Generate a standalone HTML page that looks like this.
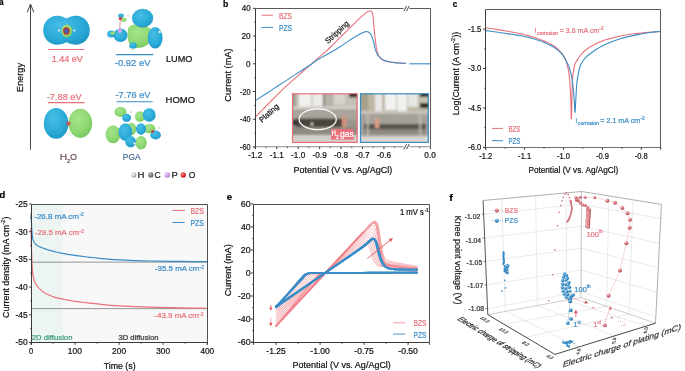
<!DOCTYPE html>
<html><head><meta charset="utf-8"><style>html,body{margin:0;padding:0;background:#fff;overflow:hidden}svg{display:block;will-change:transform}text{stroke-width:0.22px;paint-order:stroke}</style></head>
<body>
<svg width="685" height="371" viewBox="0 0 685 371" font-family='"Liberation Sans", sans-serif'>
<defs><radialGradient id="cyanG" cx="0.4" cy="0.35" r="0.7">
<stop offset="0" stop-color="#48bee6"/><stop offset="0.65" stop-color="#2aaad8"/><stop offset="1" stop-color="#1f96c4"/>
</radialGradient>
<radialGradient id="greenG" cx="0.4" cy="0.35" r="0.7">
<stop offset="0" stop-color="#a6e48c"/><stop offset="0.65" stop-color="#8dd771"/><stop offset="1" stop-color="#76c45c"/>
</radialGradient>
<radialGradient id="sH" cx="0.35" cy="0.35" r="0.7"><stop offset="0" stop-color="#fff"/><stop offset="1" stop-color="#999"/></radialGradient>
<radialGradient id="sC" cx="0.35" cy="0.35" r="0.7"><stop offset="0" stop-color="#bbb"/><stop offset="1" stop-color="#555"/></radialGradient>
<radialGradient id="sP" cx="0.35" cy="0.35" r="0.7"><stop offset="0" stop-color="#f0d0ff"/><stop offset="1" stop-color="#b070d0"/></radialGradient>
<radialGradient id="sO" cx="0.35" cy="0.35" r="0.7"><stop offset="0" stop-color="#ff8080"/><stop offset="1" stop-color="#c00000"/></radialGradient>
<radialGradient id="sR" cx="0.35" cy="0.3" r="0.75"><stop offset="0" stop-color="#f3c9cc"/><stop offset="0.5" stop-color="#d8737c"/><stop offset="1" stop-color="#a84450"/></radialGradient>
<radialGradient id="sB" cx="0.35" cy="0.3" r="0.75"><stop offset="0" stop-color="#b8e0f6"/><stop offset="0.5" stop-color="#3a92cc"/><stop offset="1" stop-color="#1a5f90"/></radialGradient>
</defs>
<rect width="685" height="371" fill="#fff"/>
<line x1="30.50" y1="4.50" x2="30.50" y2="149.70" stroke="#333" stroke-width="0.9" />
<polyline points="27.2,12.4 30.5,4 33.8,12.4" fill="none" stroke="#333" stroke-width="0.9"/>
<text x="-0.74" y="0" font-size="9.9" fill="#111" textLength="29.33" lengthAdjust="spacingAndGlyphs" transform="translate(22.83,91.50) rotate(-90)" stroke="#111" stroke-width="0.08">Energy</text>
<text x="-0.25" y="0" font-size="9.6" fill="#000" textLength="4.68" lengthAdjust="spacingAndGlyphs" font-weight="bold" transform="translate(-0.65,5.48) rotate(0)"  stroke="#000" stroke-width="0.0">a</text>
<path d="M57.2,15.8 C63,15.8 64.5,18.3 66.5,18.3 C68.5,18.3 70,15.8 75.8,15.8 C84,15.8 89.8,22.3 89.8,30.3 C89.8,38.3 84,44.8 75.8,44.8 C70,44.8 68.5,42.6 66.5,42.6 C64.5,42.6 63,44.8 57.2,44.8 C49,44.8 43.2,38.3 43.2,30.3 C43.2,22.3 49,15.8 57.2,15.8 Z" fill="url(#cyanG)"/>
<ellipse cx="66.8" cy="31" rx="5.6" ry="6.4" fill="url(#greenG)"/>
<ellipse cx="66.4" cy="31" rx="2.7" ry="3.1" fill="#3a68a8" stroke="#d8202a" stroke-width="1.1"/>
<circle cx="59" cy="30.5" r="1.1" fill="#f4f4f4"/><circle cx="74.3" cy="30.5" r="1.1" fill="#f4f4f4"/>
<line x1="48.10" y1="49.50" x2="84.30" y2="49.50" stroke="#e8707a" stroke-width="1.1" />
<text x="-0.68" y="0" font-size="9.6" fill="#e8707a" textLength="31.14" lengthAdjust="spacingAndGlyphs" transform="translate(52.40,62.22) rotate(0)"  stroke="#e8707a" stroke-width="0.08">1.44 eV</text>
<path d="M127.8,30 C128,25 135,23.5 141,25 C147,26.5 152,28 153.3,33 C154.5,38 151,42 147,45 C143,48 137,49 133,47 C129,45 127.6,40 127.5,35 Z" fill="url(#greenG)"/>
<ellipse cx="142.6" cy="18.2" rx="10.6" ry="9.4" fill="url(#cyanG)"/>
<ellipse cx="155.2" cy="37.8" rx="7.4" ry="10.8" fill="url(#cyanG)"/>
<ellipse cx="120.5" cy="35.3" rx="7" ry="6.8" fill="url(#cyanG)"/>
<ellipse cx="111.2" cy="34" rx="4" ry="3.6" fill="url(#cyanG)"/>
<ellipse cx="133" cy="45.6" rx="3.8" ry="3.2" fill="url(#cyanG)"/>
<ellipse cx="112.8" cy="33.2" rx="2.2" ry="1.8" fill="url(#greenG)"/>
<ellipse cx="121" cy="15.8" rx="2.8" ry="2.2" fill="url(#cyanG)"/>
<ellipse cx="123.8" cy="19.8" rx="2.8" ry="2" fill="url(#greenG)"/>
<circle cx="120.3" cy="18.6" r="1.5" fill="#d82a2a"/>
<line x1="120.3" y1="19.5" x2="119.8" y2="29" stroke="#d04060" stroke-width="0.6"/>
<circle cx="119.8" cy="30.8" r="2.1" fill="#dca4ec"/>
<circle cx="128.5" cy="15.2" r="1.1" fill="#f6f6f6" stroke="#bbb" stroke-width="0.3"/>
<circle cx="108" cy="37.4" r="1.1" fill="#f6f6f6" stroke="#bbb" stroke-width="0.3"/>
<circle cx="132" cy="49.5" r="1.1" fill="#f6f6f6" stroke="#bbb" stroke-width="0.3"/>
<circle cx="159.6" cy="31.9" r="1.1" fill="#f6f6f6" stroke="#bbb" stroke-width="0.3"/>
<line x1="116.10" y1="54.60" x2="153.30" y2="54.60" stroke="#3a8cc6" stroke-width="1.1" />
<text x="-0.43" y="0" font-size="9.6" fill="#3a8cc6" textLength="35.78" lengthAdjust="spacingAndGlyphs" transform="translate(115.20,66.02) rotate(0)"  stroke="#3a8cc6" stroke-width="0.08">-0.92 eV</text>
<text x="-0.73" y="0" font-size="9.6" fill="#111" textLength="26.38" lengthAdjust="spacingAndGlyphs" transform="translate(166.70,62.32) rotate(0)"  stroke="#111" stroke-width="0.08">LUMO</text>
<line x1="48.00" y1="102.60" x2="84.50" y2="102.60" stroke="#e8707a" stroke-width="1.1" />
<text x="-0.41" y="0" font-size="9.6" fill="#e8707a" textLength="34.76" lengthAdjust="spacingAndGlyphs" transform="translate(47.20,100.22) rotate(0)"  stroke="#e8707a" stroke-width="0.08">-7.88 eV</text>
<ellipse cx="56.1" cy="123.4" rx="12.3" ry="15.4" fill="url(#cyanG)"/>
<ellipse cx="80.3" cy="123.3" rx="11.9" ry="14.6" fill="url(#greenG)"/>
<circle cx="68.4" cy="123.5" r="2.2" fill="#d8404a" opacity="0.8"/>
<circle cx="68.4" cy="113" r="1.6" fill="none" stroke="#ddd" stroke-width="0.6"/><circle cx="68.4" cy="134" r="1.6" fill="none" stroke="#ddd" stroke-width="0.6"/>
<line x1="116.70" y1="101.70" x2="152.60" y2="101.70" stroke="#3a8cc6" stroke-width="1.1" />
<text x="-0.42" y="0" font-size="9.6" fill="#3a8cc6" textLength="34.97" lengthAdjust="spacingAndGlyphs" transform="translate(115.90,98.22) rotate(0)"  stroke="#3a8cc6" stroke-width="0.08">-7.76 eV</text>
<text x="-0.76" y="0" font-size="9.6" fill="#111" textLength="29.49" lengthAdjust="spacingAndGlyphs" transform="translate(166.30,102.82) rotate(0)"  stroke="#111" stroke-width="0.08">HOMO</text>
<ellipse cx="120.5" cy="112" rx="6" ry="5" fill="url(#greenG)"/>
<ellipse cx="140" cy="116.5" rx="5" ry="5.2" fill="url(#greenG)"/>
<ellipse cx="113" cy="134.3" rx="7.4" ry="9" fill="url(#greenG)"/>
<ellipse cx="131.3" cy="129" rx="5" ry="6.2" fill="url(#greenG)"/>
<ellipse cx="149.5" cy="128.6" rx="6" ry="4.7" fill="url(#greenG)"/>
<ellipse cx="141" cy="142.7" rx="5.7" ry="6.7" fill="url(#greenG)"/>
<ellipse cx="126.6" cy="117.8" rx="4.5" ry="4" fill="url(#cyanG)"/>
<ellipse cx="149.2" cy="115" rx="6.5" ry="6.8" fill="url(#cyanG)"/>
<ellipse cx="125.3" cy="132" rx="6.8" ry="8.7" fill="url(#cyanG)"/>
<ellipse cx="141" cy="129" rx="5" ry="5.8" fill="url(#cyanG)"/>
<ellipse cx="155.6" cy="135" rx="5.4" ry="4.4" fill="url(#cyanG)"/>
<ellipse cx="130.6" cy="141.7" rx="5.4" ry="5.7" fill="url(#cyanG)"/>
<circle cx="131" cy="112" r="1.1" fill="#f6f6f6" stroke="#bbb" stroke-width="0.3"/>
<circle cx="159" cy="127.8" r="1.1" fill="#f6f6f6" stroke="#bbb" stroke-width="0.3"/>
<circle cx="134.5" cy="143.4" r="1.1" fill="#f6f6f6" stroke="#bbb" stroke-width="0.3"/>
<circle cx="152.5" cy="131.5" r="1.3" fill="#d82a2a"/>
<text x="-0.81" y="0" font-size="9.6" fill="#6e4a58" textLength="7.35" lengthAdjust="spacingAndGlyphs" transform="translate(60.60,160.22) rotate(0)"  stroke="#6e4a58" stroke-width="0.08">H</text>
<text x="67.0" y="163.0" font-size="6" fill="#6e4a58" stroke="#6e4a58" stroke-width="0.22">2</text>
<text x="-0.39" y="0" font-size="9.6" fill="#6e4a58" textLength="6.70" lengthAdjust="spacingAndGlyphs" transform="translate(70.60,160.22) rotate(0)"  stroke="#6e4a58" stroke-width="0.08">O</text>
<text x="-0.67" y="0" font-size="9.6" fill="#4a6a90" textLength="17.69" lengthAdjust="spacingAndGlyphs" transform="translate(123.50,159.82) rotate(0)"  stroke="#4a6a90" stroke-width="0.08">PGA</text>
<circle cx="133.8" cy="174.9" r="2.6" fill="url(#sH)"/>
<text x="-0.77" y="0" font-size="8.4" fill="#222" textLength="6.96" lengthAdjust="spacingAndGlyphs" transform="translate(138.30,177.90) rotate(0)"  stroke="#222" stroke-width="0.22">H</text>
<circle cx="150.8" cy="174.9" r="2.6" fill="url(#sC)"/>
<text x="-0.43" y="0" font-size="8.4" fill="#222" textLength="6.14" lengthAdjust="spacingAndGlyphs" transform="translate(154.90,177.98) rotate(0)"  stroke="#222" stroke-width="0.22">C</text>
<circle cx="167.3" cy="174.9" r="2.6" fill="url(#sP)"/>
<text x="-0.76" y="0" font-size="8.4" fill="#222" textLength="6.36" lengthAdjust="spacingAndGlyphs" transform="translate(172.20,177.90) rotate(0)"  stroke="#222" stroke-width="0.22">P</text>
<circle cx="183.2" cy="174.9" r="2.6" fill="url(#sO)"/>
<text x="-0.38" y="0" font-size="8.4" fill="#222" textLength="6.59" lengthAdjust="spacingAndGlyphs" transform="translate(189.20,177.98) rotate(0)"  stroke="#222" stroke-width="0.22">O</text>
<defs><filter id="blur1" x="-5%" y="-5%" width="110%" height="110%"><feGaussianBlur stdDeviation="0.8"/></filter><filter id="blur05"><feGaussianBlur stdDeviation="0.5"/></filter><clipPath id="clipL"><rect x="292" y="93.5" width="65.5" height="49.3"/></clipPath><clipPath id="clipR"><rect x="360" y="93.5" width="68.8" height="49.3"/></clipPath></defs>
<g clip-path="url(#clipL)"><g filter="url(#blur1)">
<rect x="290" y="92" width="70" height="53" fill="#b4b0a8"/>
<rect x="290" y="92" width="70" height="15" fill="#c6c2ba"/>
<rect x="290" y="92" width="6" height="40" fill="#a29e96"/>
<rect x="299" y="92" width="12" height="15" fill="#f0f0ee"/>
<rect x="312.5" y="92" width="10" height="14" fill="#ebebe9"/>
<rect x="323.5" y="92" width="2" height="16" fill="#7a766e"/>
<rect x="327" y="92" width="6" height="15" fill="#b6b2aa"/>
<rect x="334" y="92" width="11" height="12" fill="#d6d3cd"/>
<rect x="349" y="92" width="10" height="5.5" fill="#1a1a1a"/>
<rect x="346" y="97.5" width="12" height="9" fill="#c4c0b8"/>
<rect x="292" y="106.5" width="66" height="2.5" fill="#d6d2cc"/>
<rect x="290" y="109" width="70" height="9.5" fill="#a9a59d"/>
<rect x="296" y="118.5" width="46" height="8.5" fill="#48443e"/>
<rect x="292" y="119.5" width="5" height="6" fill="#343230"/>
<rect x="342" y="119" width="16" height="8" fill="#9a968e"/>
<rect x="290" y="127" width="70" height="8" fill="#8f8b83"/>
<rect x="290" y="135" width="70" height="10" fill="#d3cfca"/>
<circle cx="312" cy="124" r="1.2" fill="#eeeeee"/>
<rect x="342" y="117" width="4.5" height="10" fill="#d49478"/>
</g>
<ellipse cx="317.7" cy="119.3" rx="18.6" ry="10.4" fill="none" stroke="#fafafa" stroke-width="1.3"/>
</g>
<rect x="331" y="129" width="22.7" height="10.6" fill="#e8707a"/>
<text x="-0.50" y="0" font-size="8.6" fill="#ffffff" textLength="4.51" lengthAdjust="spacingAndGlyphs" transform="translate(332.00,136.13) rotate(0)"  stroke="#ffffff" stroke-width="0.22">H</text>
<text x="336.0" y="139.2" font-size="5.2" fill="#ffffff" stroke="#ffffff" stroke-width="0.22">2</text>
<text x="-0.34" y="0" font-size="8.6" fill="#ffffff" textLength="13.66" lengthAdjust="spacingAndGlyphs" transform="translate(340.30,136.64) rotate(0)"  stroke="#ffffff" stroke-width="0.22">gas</text>
<rect x="292.5" y="93.8" width="64.6" height="48.6" fill="none" stroke="#e8707a" stroke-width="1.2"/>
<g clip-path="url(#clipR)"><g filter="url(#blur1)">
<rect x="358" y="92" width="73" height="53" fill="#b0aca4"/>
<rect x="358" y="92" width="73" height="19" fill="#bdb6a0"/>
<rect x="358" y="92" width="10" height="19" fill="#a8a08a"/>
<rect x="375" y="92" width="7" height="20" fill="#e8e8e6"/>
<rect x="385" y="92" width="11" height="18" fill="#f2f2f0"/>
<rect x="397" y="92" width="10" height="19" fill="#f0f0ee"/>
<rect x="408" y="92" width="10" height="15" fill="#e6e6e2"/>
<rect x="420" y="92" width="10" height="5" fill="#202020"/>
<rect x="420" y="103" width="10" height="5" fill="#2a2a28"/>
<rect x="420" y="97" width="10" height="6" fill="#c8c4b0"/>
<rect x="358" y="111" width="73" height="27" fill="#a5a199"/>
<rect x="358" y="111" width="73" height="3" fill="#bcb8b0"/>
<rect x="364" y="124" width="62" height="5.5" fill="#55524a"/>
<rect x="364" y="129.5" width="62" height="5" fill="#8e8a82"/>
<rect x="358" y="136" width="73" height="9" fill="#dad7d3"/>
<rect x="360" y="111" width="71" height="2.2" fill="#cdc9c2"/>
<rect x="367" y="111" width="1.6" height="26" fill="#c4c0b9"/>
<rect x="419.5" y="111" width="1.6" height="26" fill="#c4c0b9"/>
<rect x="364" y="135.5" width="60" height="1.5" fill="#bdb9b2"/>
<rect x="374.8" y="118.5" width="4.5" height="9.5" fill="#dc9e86"/>
</g></g>
<rect x="360.5" y="93.8" width="67.8" height="48.6" fill="none" stroke="#3a8cc6" stroke-width="1.2"/>
<polyline points="255.50,116.80 259.33,112.92 264.78,107.36 271.08,100.99 277.41,94.65 283.00,89.20 288.00,84.55 292.93,80.12 297.56,76.06 301.66,72.51 305.00,69.60 307.34,67.55 308.84,66.28 309.85,65.44 310.72,64.73 311.80,63.80 313.01,62.72 314.12,61.72 315.24,60.69 316.49,59.55 318.00,58.20 319.81,56.63 321.84,54.88 324.02,53.01 326.27,51.04 328.50,49.00 330.73,46.87 333.00,44.62 335.32,42.29 337.65,39.94 340.00,37.60 342.42,35.21 344.91,32.76 347.39,30.31 349.78,27.96 352.00,25.80 354.05,23.81 355.98,21.95 357.80,20.21 359.47,18.63 361.00,17.20 362.36,15.94 363.57,14.84 364.65,13.89 365.62,13.08 366.50,12.40 367.28,11.87 367.93,11.50 368.49,11.25 369.00,11.10 369.50,11.00 369.98,10.95 370.41,10.96 370.80,11.06 371.16,11.27 371.50,11.60 371.81,12.01 372.09,12.49 372.34,13.10 372.58,13.92 372.80,15.00 373.00,16.38 373.17,18.00 373.33,19.84 373.50,21.85 373.70,24.00 373.93,26.35 374.17,28.93 374.43,31.64 374.71,34.36 375.00,37.00 375.30,39.64 375.62,42.37 375.96,45.03 376.32,47.48 376.70,49.60 377.11,51.32 377.54,52.74 378.00,53.94 378.49,55.00 379.00,56.00 379.51,56.92 380.01,57.71 380.55,58.40 381.20,59.01 382.00,59.60 382.99,60.15 384.14,60.64 385.38,61.08 386.69,61.47 388.00,61.80 389.28,62.07 390.55,62.27 391.89,62.42 393.35,62.56 395.00,62.70 397.07,62.85 399.53,62.99 402.01,63.12 404.19,63.22 405.70,63.30" fill="none" stroke="#e8707a" stroke-width="1.1" stroke-linejoin="round" stroke-linecap="round" />
<polyline points="255.50,100.60 259.33,98.09 264.78,94.52 271.08,90.40 277.41,86.25 283.00,82.60 288.00,79.35 292.93,76.14 297.56,73.14 301.66,70.47 305.00,68.30 307.34,66.77 308.84,65.78 309.85,65.11 310.72,64.52 311.80,63.80 312.88,63.04 313.73,62.41 314.66,61.73 315.98,60.84 318.00,59.60 320.96,57.88 324.66,55.81 328.73,53.53 332.80,51.20 336.50,49.00 339.91,46.83 343.28,44.59 346.48,42.40 349.43,40.40 352.00,38.70 354.14,37.36 355.91,36.29 357.41,35.42 358.74,34.68 360.00,34.00 361.16,33.40 362.16,32.93 363.03,32.56 363.80,32.25 364.50,32.00 365.10,31.80 365.57,31.66 365.97,31.58 366.36,31.56 366.80,31.60 367.29,31.68 367.80,31.80 368.31,31.99 368.82,32.25 369.30,32.60 369.76,33.03 370.21,33.52 370.65,34.10 371.08,34.78 371.50,35.60 371.91,36.56 372.32,37.65 372.72,38.84 373.11,40.13 373.50,41.50 373.88,43.03 374.26,44.74 374.63,46.48 375.01,48.15 375.40,49.60 375.81,50.82 376.22,51.90 376.64,52.85 377.07,53.71 377.50,54.50 377.88,55.17 378.22,55.70 378.59,56.18 379.06,56.65 379.70,57.20 380.49,57.86 381.37,58.58 382.39,59.31 383.59,60.00 385.00,60.60 386.69,61.11 388.64,61.56 390.74,61.95 392.89,62.30 395.00,62.60 397.24,62.85 399.67,63.04 402.03,63.20 404.06,63.31 405.50,63.40" fill="none" stroke="#3a8cc6" stroke-width="1.1" stroke-linejoin="round" stroke-linecap="round" />
<line x1="409.50" y1="63.80" x2="430.00" y2="63.80" stroke="#3a8cc6" stroke-width="1.1" />
<line x1="255.50" y1="8.50" x2="255.50" y2="149.05" stroke="#3a3a3a" stroke-width="1" />
<line x1="253.10" y1="146.75" x2="430.50" y2="146.75" stroke="#8a8a8a" stroke-width="1.2" />
<line x1="255.50" y1="8.50" x2="430.50" y2="8.50" stroke="#5a5a5a" stroke-width="1" />
<line x1="430.50" y1="8.50" x2="430.50" y2="149.05" stroke="#5a5a5a" stroke-width="1" />
<rect x="403.6" y="5.5" width="5.8" height="6" fill="#fff"/>
<line x1="403.90" y1="11.10" x2="406.60" y2="5.90" stroke="#333" stroke-width="0.9" />
<line x1="406.50" y1="11.10" x2="409.20" y2="5.90" stroke="#333" stroke-width="0.9" />
<rect x="403.6" y="143.75" width="5.8" height="6" fill="#fff"/>
<line x1="403.90" y1="149.35" x2="406.60" y2="144.15" stroke="#333" stroke-width="0.9" />
<line x1="406.50" y1="149.35" x2="409.20" y2="144.15" stroke="#333" stroke-width="0.9" />
<line x1="253.10" y1="8.34" x2="255.50" y2="8.34" stroke="#3a3a3a" stroke-width="1" />
<line x1="253.10" y1="36.07" x2="255.50" y2="36.07" stroke="#3a3a3a" stroke-width="1" />
<line x1="253.10" y1="63.80" x2="255.50" y2="63.80" stroke="#3a3a3a" stroke-width="1" />
<line x1="253.10" y1="91.53" x2="255.50" y2="91.53" stroke="#3a3a3a" stroke-width="1" />
<line x1="253.10" y1="119.26" x2="255.50" y2="119.26" stroke="#3a3a3a" stroke-width="1" />
<line x1="253.10" y1="146.99" x2="255.50" y2="146.99" stroke="#3a3a3a" stroke-width="1" />
<line x1="254.10" y1="22.20" x2="255.50" y2="22.20" stroke="#3a3a3a" stroke-width="0.8" />
<line x1="254.10" y1="49.93" x2="255.50" y2="49.93" stroke="#3a3a3a" stroke-width="0.8" />
<line x1="254.10" y1="77.66" x2="255.50" y2="77.66" stroke="#3a3a3a" stroke-width="0.8" />
<line x1="254.10" y1="105.39" x2="255.50" y2="105.39" stroke="#3a3a3a" stroke-width="0.8" />
<line x1="254.10" y1="133.12" x2="255.50" y2="133.12" stroke="#3a3a3a" stroke-width="0.8" />
<text x="-0.16" y="0" font-size="8.7" fill="#111" textLength="8.86" lengthAdjust="spacingAndGlyphs" transform="translate(241.90,11.43) rotate(0)"  stroke="#111" stroke-width="0.22">40</text>
<text x="-0.41" y="0" font-size="8.7" fill="#111" textLength="9.12" lengthAdjust="spacingAndGlyphs" transform="translate(241.90,39.16) rotate(0)"  stroke="#111" stroke-width="0.22">20</text>
<text x="-0.33" y="0" font-size="8.7" fill="#111" textLength="4.52" lengthAdjust="spacingAndGlyphs" transform="translate(246.40,66.89) rotate(0)"  stroke="#111" stroke-width="0.22">0</text>
<text x="-0.33" y="0" font-size="8.7" fill="#111" textLength="10.48" lengthAdjust="spacingAndGlyphs" transform="translate(240.40,94.62) rotate(0)"  stroke="#111" stroke-width="0.22">-20</text>
<text x="-0.33" y="0" font-size="8.7" fill="#111" textLength="10.48" lengthAdjust="spacingAndGlyphs" transform="translate(240.40,122.35) rotate(0)"  stroke="#111" stroke-width="0.22">-40</text>
<text x="-0.33" y="0" font-size="8.7" fill="#111" textLength="10.48" lengthAdjust="spacingAndGlyphs" transform="translate(240.40,150.08) rotate(0)"  stroke="#111" stroke-width="0.22">-60</text>
<line x1="255.30" y1="146.75" x2="255.30" y2="149.05" stroke="#3a3a3a" stroke-width="1" />
<text x="-0.37" y="0" font-size="8.7" fill="#111" textLength="14.21" lengthAdjust="spacingAndGlyphs" transform="translate(248.60,158.09) rotate(0)"  stroke="#111" stroke-width="0.22">-1.2</text>
<line x1="276.74" y1="146.75" x2="276.74" y2="149.05" stroke="#3a3a3a" stroke-width="1" />
<text x="-0.37" y="0" font-size="8.7" fill="#111" textLength="14.17" lengthAdjust="spacingAndGlyphs" transform="translate(270.04,158.00) rotate(0)"  stroke="#111" stroke-width="0.22">-1.1</text>
<line x1="298.18" y1="146.75" x2="298.18" y2="149.05" stroke="#3a3a3a" stroke-width="1" />
<text x="-0.37" y="0" font-size="8.7" fill="#111" textLength="14.08" lengthAdjust="spacingAndGlyphs" transform="translate(291.48,158.09) rotate(0)"  stroke="#111" stroke-width="0.22">-1.0</text>
<line x1="319.62" y1="146.75" x2="319.62" y2="149.05" stroke="#3a3a3a" stroke-width="1" />
<text x="-0.37" y="0" font-size="8.7" fill="#111" textLength="14.17" lengthAdjust="spacingAndGlyphs" transform="translate(312.92,158.09) rotate(0)"  stroke="#111" stroke-width="0.22">-0.9</text>
<line x1="341.06" y1="146.75" x2="341.06" y2="149.05" stroke="#3a3a3a" stroke-width="1" />
<text x="-0.37" y="0" font-size="8.7" fill="#111" textLength="14.12" lengthAdjust="spacingAndGlyphs" transform="translate(334.36,158.09) rotate(0)"  stroke="#111" stroke-width="0.22">-0.8</text>
<line x1="362.50" y1="146.75" x2="362.50" y2="149.05" stroke="#3a3a3a" stroke-width="1" />
<text x="-0.37" y="0" font-size="8.7" fill="#111" textLength="14.21" lengthAdjust="spacingAndGlyphs" transform="translate(355.80,158.09) rotate(0)"  stroke="#111" stroke-width="0.22">-0.7</text>
<line x1="383.94" y1="146.75" x2="383.94" y2="149.05" stroke="#3a3a3a" stroke-width="1" />
<text x="-0.37" y="0" font-size="8.7" fill="#111" textLength="14.12" lengthAdjust="spacingAndGlyphs" transform="translate(377.24,158.09) rotate(0)"  stroke="#111" stroke-width="0.22">-0.6</text>
<line x1="266.02" y1="146.75" x2="266.02" y2="148.15" stroke="#3a3a3a" stroke-width="0.8" />
<line x1="287.46" y1="146.75" x2="287.46" y2="148.15" stroke="#3a3a3a" stroke-width="0.8" />
<line x1="308.90" y1="146.75" x2="308.90" y2="148.15" stroke="#3a3a3a" stroke-width="0.8" />
<line x1="330.34" y1="146.75" x2="330.34" y2="148.15" stroke="#3a3a3a" stroke-width="0.8" />
<line x1="351.78" y1="146.75" x2="351.78" y2="148.15" stroke="#3a3a3a" stroke-width="0.8" />
<line x1="373.22" y1="146.75" x2="373.22" y2="148.15" stroke="#3a3a3a" stroke-width="0.8" />
<line x1="394.66" y1="146.75" x2="394.66" y2="148.15" stroke="#3a3a3a" stroke-width="0.8" />
<line x1="419.60" y1="146.75" x2="419.60" y2="148.15" stroke="#3a3a3a" stroke-width="0.8" />
<text x="-0.33" y="0" font-size="8.7" fill="#111" textLength="11.42" lengthAdjust="spacingAndGlyphs" transform="translate(424.70,158.19) rotate(0)"  stroke="#111" stroke-width="0.22">0.0</text>
<text x="-0.72" y="0" font-size="9.2" fill="#111" textLength="98.70" lengthAdjust="spacingAndGlyphs" transform="translate(294.30,173.17) rotate(0)"  stroke="#111" stroke-width="0.22">Potential (V vs. Ag/AgCl)</text>
<text x="-0.46" y="0" font-size="9.2" fill="#111" textLength="53.14" lengthAdjust="spacingAndGlyphs" transform="translate(231.17,101.20) rotate(-90)" stroke="#111" stroke-width="0.22">Current (mA)</text>
<line x1="261.50" y1="15.20" x2="273.00" y2="15.20" stroke="#e8707a" stroke-width="1" />
<text x="-0.54" y="0" font-size="8.8" fill="#e8707a" textLength="13.14" lengthAdjust="spacingAndGlyphs" transform="translate(279.50,18.66) rotate(0)"  stroke="#e8707a" stroke-width="0.22">BZS</text>
<line x1="261.50" y1="27.40" x2="273.00" y2="27.40" stroke="#3a8cc6" stroke-width="1" />
<text x="-0.54" y="0" font-size="8.8" fill="#3a8cc6" textLength="13.14" lengthAdjust="spacingAndGlyphs" transform="translate(279.50,30.96) rotate(0)"  stroke="#3a8cc6" stroke-width="0.22">PZS</text>
<text x="-0.62" y="0" font-size="7.8" fill="#111" textLength="23.54" lengthAdjust="spacingAndGlyphs" transform="translate(262.40,122.60) rotate(-42)"  stroke="#111" stroke-width="0.22">Plating</text>
<text x="-0.34" y="0" font-size="7.9" fill="#111" textLength="29.43" lengthAdjust="spacingAndGlyphs" transform="translate(328.20,43.80) rotate(-42.4)"  stroke="#111" stroke-width="0.22">Stripping</text>
<text x="-0.57" y="0" font-size="9.6" fill="#000" textLength="5.32" lengthAdjust="spacingAndGlyphs" font-weight="bold" transform="translate(223.65,6.96) rotate(0)"  stroke="#000" stroke-width="0.0">b</text>
<polyline points="486.00,27.80 488.58,28.19 492.21,28.74 496.46,29.39 500.87,30.09 505.00,30.80 508.92,31.51 512.91,32.25 516.89,33.03 520.76,33.85 524.40,34.70 527.86,35.62 531.22,36.60 534.40,37.60 537.34,38.58 540.00,39.50 542.30,40.33 544.30,41.12 546.07,41.87 547.71,42.62 549.30,43.40 550.82,44.18 552.22,44.94 553.52,45.73 554.77,46.57 556.00,47.50 557.23,48.52 558.42,49.61 559.57,50.76 560.67,51.99 561.70,53.30 562.67,54.63 563.58,55.97 564.43,57.42 565.24,59.06 566.00,61.00 566.72,63.20 567.40,65.60 568.03,68.25 568.60,71.17 569.10,74.40 569.51,78.00 569.85,81.96 570.13,86.17 570.37,90.55 570.60,95.00 570.81,100.35 570.98,106.66 571.13,112.69 571.26,117.22 571.40,119.00 571.53,117.16 571.65,112.52 571.77,106.40 571.88,100.12 572.00,95.00 572.10,91.07 572.18,87.46 572.27,84.10 572.40,80.97 572.60,78.00 572.88,75.19 573.22,72.57 573.61,70.16 574.04,67.96 574.50,66.00 574.97,64.37 575.46,63.07 576.00,61.94 576.63,60.84 577.40,59.60 578.33,58.20 579.39,56.73 580.54,55.25 581.76,53.82 583.00,52.50 584.19,51.32 585.36,50.26 586.62,49.24 588.06,48.20 589.80,47.10 591.92,45.87 594.34,44.55 596.94,43.22 599.60,41.98 602.20,40.90 604.75,40.01 607.33,39.27 609.92,38.61 612.48,38.01 615.00,37.40 617.36,36.80 619.57,36.23 621.81,35.70 624.23,35.19 627.00,34.70 630.26,34.22 633.90,33.76 637.71,33.33 641.48,32.94 645.00,32.60 648.48,32.31 652.05,32.07 655.41,31.88 658.26,31.72 660.30,31.60" fill="none" stroke="#e8707a" stroke-width="1.1" stroke-linejoin="round" stroke-linecap="round" />
<polyline points="486.00,30.60 488.58,30.96 492.21,31.46 496.46,32.05 500.87,32.68 505.00,33.30 508.92,33.89 512.91,34.49 516.89,35.12 520.76,35.78 524.40,36.50 527.86,37.30 531.22,38.16 534.40,39.06 537.34,39.95 540.00,40.80 542.30,41.60 544.30,42.38 546.07,43.15 547.71,43.92 549.30,44.70 550.82,45.48 552.22,46.24 553.52,47.02 554.77,47.83 556.00,48.70 557.23,49.62 558.42,50.58 559.57,51.59 560.67,52.66 561.70,53.80 562.65,54.99 563.54,56.23 564.37,57.54 565.18,58.96 566.00,60.50 566.84,62.18 567.69,63.98 568.52,65.89 569.30,67.90 570.00,70.00 570.61,72.14 571.15,74.33 571.63,76.65 572.08,79.18 572.50,82.00 572.91,85.30 573.28,89.03 573.62,92.91 573.93,96.66 574.20,100.00 574.42,103.25 574.58,106.60 574.72,109.56 574.85,111.69 575.00,112.50 575.15,111.69 575.30,109.56 575.45,106.60 575.61,103.25 575.80,100.00 575.99,96.70 576.17,93.05 576.38,89.25 576.64,85.50 577.00,82.00 577.45,78.69 577.98,75.42 578.57,72.32 579.22,69.47 579.90,67.00 580.62,64.99 581.37,63.36 582.18,62.00 583.05,60.75 584.00,59.50 584.95,58.31 585.88,57.28 586.92,56.29 588.19,55.23 589.80,54.00 591.85,52.50 594.27,50.81 596.89,49.06 599.59,47.38 602.20,45.90 604.75,44.64 607.33,43.50 609.92,42.47 612.48,41.51 615.00,40.60 617.36,39.76 619.57,39.00 621.81,38.30 624.23,37.61 627.00,36.90 630.26,36.15 633.90,35.38 637.71,34.62 641.48,33.92 645.00,33.30 648.48,32.77 652.05,32.29 655.41,31.88 658.26,31.55 660.30,31.30" fill="none" stroke="#3a8cc6" stroke-width="1.1" stroke-linejoin="round" stroke-linecap="round" />
<line x1="485.50" y1="9.50" x2="485.50" y2="149.80" stroke="#3a3a3a" stroke-width="1" />
<line x1="483.10" y1="147.50" x2="660.50" y2="147.50" stroke="#707070" stroke-width="1.1" />
<line x1="485.50" y1="9.50" x2="660.50" y2="9.50" stroke="#5a5a5a" stroke-width="1" />
<line x1="660.50" y1="9.50" x2="660.50" y2="149.80" stroke="#5a5a5a" stroke-width="1" />
<line x1="483.10" y1="29.10" x2="485.50" y2="29.10" stroke="#3a3a3a" stroke-width="1" />
<text x="-0.34" y="0" font-size="8.7" fill="#111" textLength="13.07" lengthAdjust="spacingAndGlyphs" transform="translate(468.60,32.00) rotate(0)"  stroke="#111" stroke-width="0.22">-1.5</text>
<line x1="483.10" y1="68.53" x2="485.50" y2="68.53" stroke="#3a3a3a" stroke-width="1" />
<text x="-0.34" y="0" font-size="8.7" fill="#111" textLength="13.03" lengthAdjust="spacingAndGlyphs" transform="translate(468.60,71.19) rotate(0)"  stroke="#111" stroke-width="0.22">-3.0</text>
<line x1="483.10" y1="107.97" x2="485.50" y2="107.97" stroke="#3a3a3a" stroke-width="1" />
<text x="-0.34" y="0" font-size="8.7" fill="#111" textLength="13.07" lengthAdjust="spacingAndGlyphs" transform="translate(468.60,111.20) rotate(0)"  stroke="#111" stroke-width="0.22">-4.5</text>
<line x1="483.10" y1="147.41" x2="485.50" y2="147.41" stroke="#3a3a3a" stroke-width="1" />
<text x="-0.34" y="0" font-size="8.7" fill="#111" textLength="13.03" lengthAdjust="spacingAndGlyphs" transform="translate(468.60,150.29) rotate(0)"  stroke="#111" stroke-width="0.22">-6.0</text>
<line x1="484.10" y1="48.82" x2="485.50" y2="48.82" stroke="#3a3a3a" stroke-width="0.8" />
<line x1="484.10" y1="88.25" x2="485.50" y2="88.25" stroke="#3a3a3a" stroke-width="0.8" />
<line x1="484.10" y1="127.69" x2="485.50" y2="127.69" stroke="#3a3a3a" stroke-width="0.8" />
<line x1="485.70" y1="147.50" x2="485.70" y2="149.80" stroke="#3a3a3a" stroke-width="1" />
<text x="-0.34" y="0" font-size="8.7" fill="#111" textLength="13.04" lengthAdjust="spacingAndGlyphs" transform="translate(479.55,159.09) rotate(0)"  stroke="#111" stroke-width="0.22">-1.2</text>
<line x1="524.60" y1="147.50" x2="524.60" y2="149.80" stroke="#3a3a3a" stroke-width="1" />
<text x="-0.34" y="0" font-size="8.7" fill="#111" textLength="13.00" lengthAdjust="spacingAndGlyphs" transform="translate(518.45,159.00) rotate(0)"  stroke="#111" stroke-width="0.22">-1.1</text>
<line x1="563.50" y1="147.50" x2="563.50" y2="149.80" stroke="#3a3a3a" stroke-width="1" />
<text x="-0.34" y="0" font-size="8.7" fill="#111" textLength="12.92" lengthAdjust="spacingAndGlyphs" transform="translate(557.35,159.09) rotate(0)"  stroke="#111" stroke-width="0.22">-1.0</text>
<line x1="602.40" y1="147.50" x2="602.40" y2="149.80" stroke="#3a3a3a" stroke-width="1" />
<text x="-0.34" y="0" font-size="8.7" fill="#111" textLength="13.00" lengthAdjust="spacingAndGlyphs" transform="translate(596.25,159.09) rotate(0)"  stroke="#111" stroke-width="0.22">-0.9</text>
<line x1="641.30" y1="147.50" x2="641.30" y2="149.80" stroke="#3a3a3a" stroke-width="1" />
<text x="-0.34" y="0" font-size="8.7" fill="#111" textLength="12.96" lengthAdjust="spacingAndGlyphs" transform="translate(635.15,159.09) rotate(0)"  stroke="#111" stroke-width="0.22">-0.8</text>
<line x1="505.15" y1="147.50" x2="505.15" y2="148.90" stroke="#3a3a3a" stroke-width="0.8" />
<line x1="544.05" y1="147.50" x2="544.05" y2="148.90" stroke="#3a3a3a" stroke-width="0.8" />
<line x1="582.95" y1="147.50" x2="582.95" y2="148.90" stroke="#3a3a3a" stroke-width="0.8" />
<line x1="621.85" y1="147.50" x2="621.85" y2="148.90" stroke="#3a3a3a" stroke-width="0.8" />
<line x1="660.75" y1="147.50" x2="660.75" y2="148.90" stroke="#3a3a3a" stroke-width="0.8" />
<text x="-0.66" y="0" font-size="9.2" fill="#111" textLength="89.79" lengthAdjust="spacingAndGlyphs" transform="translate(529.10,173.37) rotate(0)"  stroke="#111" stroke-width="0.22">Potential (V vs. Ag/AgCl)</text>
<text x="0" y="0" font-size="8.8" fill="#111" textLength="72.22" lengthAdjust="spacingAndGlyphs" transform="translate(459.06,115.30) rotate(-90)" stroke="#111" stroke-width="0.22">Log(Current (A cm</text>
<text x="0" y="0" font-size="5.3" fill="#111" transform="translate(455.46,42.88) rotate(-90)" stroke="#111" stroke-width="0.22">-2</text>
<text x="0" y="0" font-size="8.8" fill="#111" textLength="5.89" lengthAdjust="spacingAndGlyphs" transform="translate(459.06,37.60) rotate(-90)" stroke="#111" stroke-width="0.22">))</text>
<line x1="491.90" y1="128.40" x2="503.00" y2="128.40" stroke="#e8707a" stroke-width="1" />
<text x="-0.49" y="0" font-size="8.8" fill="#e8707a" textLength="11.86" lengthAdjust="spacingAndGlyphs" transform="translate(508.90,131.66) rotate(0)"  stroke="#e8707a" stroke-width="0.22">BZS</text>
<line x1="491.90" y1="140.70" x2="503.00" y2="140.70" stroke="#3a8cc6" stroke-width="1" />
<text x="-0.49" y="0" font-size="8.8" fill="#3a8cc6" textLength="11.86" lengthAdjust="spacingAndGlyphs" transform="translate(508.90,143.96) rotate(0)"  stroke="#3a8cc6" stroke-width="0.22">PZS</text>
<line x1="535.50" y1="27.80" x2="535.50" y2="32.90" stroke="#e8707a" stroke-width="0.75" />
<text x="-0.21" y="0" font-size="5.2" fill="#e8707a" textLength="21.26" lengthAdjust="spacingAndGlyphs" transform="translate(537.15,35.00) rotate(0)"  stroke="#e8707a" stroke-width="0.22">corrosion</text>
<text x="-0.35" y="0" font-size="8.0" fill="#e8707a" textLength="39.28" lengthAdjust="spacingAndGlyphs" transform="translate(560.10,32.50) rotate(0)"  stroke="#e8707a" stroke-width="0.22">= 3.6 mA cm</text>
<text x="599.30" y="30.30" font-size="4.8" fill="#e8707a" stroke="#e8707a" stroke-width="0.22">-2</text>
<line x1="576.40" y1="118.00" x2="576.40" y2="123.10" stroke="#3a8cc6" stroke-width="0.75" />
<text x="-0.20" y="0" font-size="5.2" fill="#3a8cc6" textLength="20.95" lengthAdjust="spacingAndGlyphs" transform="translate(578.05,125.20) rotate(0)"  stroke="#3a8cc6" stroke-width="0.22">corrosion</text>
<text x="-0.36" y="0" font-size="8.0" fill="#3a8cc6" textLength="39.79" lengthAdjust="spacingAndGlyphs" transform="translate(600.70,122.60) rotate(0)"  stroke="#3a8cc6" stroke-width="0.22">= 2.1 mA cm</text>
<text x="640.50" y="120.10" font-size="4.8" fill="#3a8cc6" stroke="#3a8cc6" stroke-width="0.22">-2</text>
<text x="-0.32" y="0" font-size="9.6" fill="#000" textLength="4.47" lengthAdjust="spacingAndGlyphs" font-weight="bold" transform="translate(452.95,7.08) rotate(0)"  stroke="#000" stroke-width="0.0">c</text>
<rect x="31.5" y="204.5" width="31.6" height="138.0" fill="#ecf5f2"/>
<rect x="63.1" y="204.5" width="144.4" height="138.0" fill="#f8f8f8"/>
<line x1="31.50" y1="262.13" x2="207.50" y2="262.13" stroke="#7a7a7a" stroke-width="0.8" />
<line x1="31.50" y1="308.63" x2="207.50" y2="308.63" stroke="#7a7a7a" stroke-width="0.8" />
<polyline points="31.00,213.90 31.04,214.77 31.10,215.97 31.17,217.39 31.24,218.93 31.32,220.50 31.40,222.00 31.48,223.48 31.55,225.03 31.63,226.60 31.71,228.15 31.80,229.63 31.90,231.00 32.00,232.26 32.10,233.44 32.21,234.56 32.32,235.60 32.45,236.58 32.60,237.50 32.76,238.33 32.93,239.09 33.11,239.77 33.31,240.40 33.54,241.01 33.80,241.60 34.09,242.17 34.39,242.71 34.72,243.21 35.10,243.69 35.52,244.15 36.00,244.60 36.57,245.03 37.21,245.45 37.91,245.85 38.63,246.23 39.34,246.58 40.00,246.90 40.59,247.18 41.13,247.41 41.65,247.61 42.21,247.81 42.84,248.04 43.60,248.30 44.42,248.60 45.24,248.90 46.14,249.23 47.19,249.59 48.46,249.97 50.00,250.40 51.77,250.88 53.70,251.40 55.85,251.96 58.26,252.53 61.00,253.12 64.10,253.70 67.70,254.30 71.79,254.93 76.20,255.56 80.76,256.19 85.32,256.77 89.70,257.30 93.82,257.77 97.80,258.20 101.76,258.59 105.86,258.95 110.23,259.28 115.00,259.60 120.01,259.89 125.12,260.16 130.50,260.40 136.32,260.62 142.76,260.82 150.00,261.00 158.92,261.17 169.57,261.31 180.84,261.44 191.62,261.54 200.81,261.63 207.30,261.70" fill="none" stroke="#3a8cc6" stroke-width="1.2" stroke-linejoin="round" stroke-linecap="round" />
<polyline points="31.00,228.60 31.03,230.03 31.07,231.98 31.12,234.30 31.17,236.84 31.23,239.46 31.30,242.00 31.37,244.53 31.44,247.20 31.52,249.93 31.60,252.68 31.70,255.39 31.80,258.00 31.91,260.59 32.02,263.22 32.14,265.81 32.28,268.28 32.43,270.53 32.60,272.50 32.79,274.12 32.99,275.45 33.21,276.57 33.44,277.57 33.71,278.52 34.00,279.50 34.32,280.49 34.65,281.43 35.01,282.31 35.40,283.16 35.83,283.99 36.30,284.80 36.83,285.60 37.42,286.38 38.04,287.13 38.69,287.86 39.35,288.55 40.00,289.20 40.63,289.81 41.24,290.36 41.86,290.89 42.51,291.39 43.21,291.89 44.00,292.40 44.87,292.92 45.81,293.44 46.81,293.95 47.85,294.45 48.92,294.94 50.00,295.40 50.98,295.82 51.85,296.20 52.74,296.57 53.81,296.94 55.18,297.34 57.00,297.80 59.25,298.32 61.83,298.89 64.71,299.49 67.89,300.11 71.35,300.72 75.10,301.30 79.45,301.89 84.46,302.50 89.77,303.11 94.98,303.68 99.72,304.19 103.60,304.60 106.22,304.89 107.79,305.08 108.89,305.21 110.09,305.31 111.93,305.43 115.00,305.60 119.21,305.84 124.09,306.11 129.63,306.39 135.81,306.68 142.60,306.96 150.00,307.20 158.92,307.43 169.57,307.64 180.84,307.85 191.62,308.03 200.81,308.19 207.30,308.30" fill="none" stroke="#e8707a" stroke-width="1.2" stroke-linejoin="round" stroke-linecap="round" />
<line x1="31.50" y1="204.50" x2="31.50" y2="344.80" stroke="#3a3a3a" stroke-width="1" />
<line x1="29.10" y1="342.50" x2="207.50" y2="342.50" stroke="#3a3a3a" stroke-width="1" />
<line x1="31.50" y1="204.50" x2="207.50" y2="204.50" stroke="#505050" stroke-width="1" />
<line x1="207.50" y1="204.50" x2="207.50" y2="344.80" stroke="#505050" stroke-width="1" />
<line x1="29.10" y1="204.00" x2="31.50" y2="204.00" stroke="#3a3a3a" stroke-width="1" />
<text x="-0.38" y="0" font-size="8.7" fill="#111" textLength="12.22" lengthAdjust="spacingAndGlyphs" transform="translate(15.80,207.09) rotate(0)"  stroke="#111" stroke-width="0.22">-25</text>
<line x1="29.10" y1="231.68" x2="31.50" y2="231.68" stroke="#3a3a3a" stroke-width="1" />
<text x="-0.38" y="0" font-size="8.7" fill="#111" textLength="12.18" lengthAdjust="spacingAndGlyphs" transform="translate(15.80,234.77) rotate(0)"  stroke="#111" stroke-width="0.22">-30</text>
<line x1="29.10" y1="259.36" x2="31.50" y2="259.36" stroke="#3a3a3a" stroke-width="1" />
<text x="-0.38" y="0" font-size="8.7" fill="#111" textLength="12.22" lengthAdjust="spacingAndGlyphs" transform="translate(15.80,262.45) rotate(0)"  stroke="#111" stroke-width="0.22">-35</text>
<line x1="29.10" y1="287.04" x2="31.50" y2="287.04" stroke="#3a3a3a" stroke-width="1" />
<text x="-0.38" y="0" font-size="8.7" fill="#111" textLength="12.18" lengthAdjust="spacingAndGlyphs" transform="translate(15.80,290.13) rotate(0)"  stroke="#111" stroke-width="0.22">-40</text>
<line x1="29.10" y1="314.72" x2="31.50" y2="314.72" stroke="#3a3a3a" stroke-width="1" />
<text x="-0.38" y="0" font-size="8.7" fill="#111" textLength="12.22" lengthAdjust="spacingAndGlyphs" transform="translate(15.80,317.72) rotate(0)"  stroke="#111" stroke-width="0.22">-45</text>
<line x1="29.10" y1="342.40" x2="31.50" y2="342.40" stroke="#3a3a3a" stroke-width="1" />
<text x="-0.38" y="0" font-size="8.7" fill="#111" textLength="12.18" lengthAdjust="spacingAndGlyphs" transform="translate(15.80,345.49) rotate(0)"  stroke="#111" stroke-width="0.22">-50</text>
<line x1="30.10" y1="217.84" x2="31.50" y2="217.84" stroke="#3a3a3a" stroke-width="0.8" />
<line x1="30.10" y1="245.52" x2="31.50" y2="245.52" stroke="#3a3a3a" stroke-width="0.8" />
<line x1="30.10" y1="273.20" x2="31.50" y2="273.20" stroke="#3a3a3a" stroke-width="0.8" />
<line x1="30.10" y1="300.88" x2="31.50" y2="300.88" stroke="#3a3a3a" stroke-width="0.8" />
<line x1="30.10" y1="328.56" x2="31.50" y2="328.56" stroke="#3a3a3a" stroke-width="0.8" />
<line x1="31.00" y1="342.50" x2="31.00" y2="344.80" stroke="#3a3a3a" stroke-width="1" />
<text x="-0.30" y="0" font-size="8.7" fill="#111" textLength="4.17" lengthAdjust="spacingAndGlyphs" transform="translate(29.20,353.59) rotate(0)"  stroke="#111" stroke-width="0.22">0</text>
<line x1="75.05" y1="342.50" x2="75.05" y2="344.80" stroke="#3a3a3a" stroke-width="1" />
<text x="-0.64" y="0" font-size="8.7" fill="#111" textLength="14.16" lengthAdjust="spacingAndGlyphs" transform="translate(68.45,353.59) rotate(0)"  stroke="#111" stroke-width="0.22">100</text>
<line x1="119.10" y1="342.50" x2="119.10" y2="344.80" stroke="#3a3a3a" stroke-width="1" />
<text x="-0.42" y="0" font-size="8.7" fill="#111" textLength="13.94" lengthAdjust="spacingAndGlyphs" transform="translate(112.50,353.59) rotate(0)"  stroke="#111" stroke-width="0.22">200</text>
<line x1="163.15" y1="342.50" x2="163.15" y2="344.80" stroke="#3a3a3a" stroke-width="1" />
<text x="-0.33" y="0" font-size="8.7" fill="#111" textLength="13.85" lengthAdjust="spacingAndGlyphs" transform="translate(156.55,353.59) rotate(0)"  stroke="#111" stroke-width="0.22">300</text>
<line x1="207.20" y1="342.50" x2="207.20" y2="344.80" stroke="#3a3a3a" stroke-width="1" />
<text x="-0.16" y="0" font-size="8.7" fill="#111" textLength="13.68" lengthAdjust="spacingAndGlyphs" transform="translate(200.60,353.59) rotate(0)"  stroke="#111" stroke-width="0.22">400</text>
<line x1="53.02" y1="342.50" x2="53.02" y2="343.90" stroke="#3a3a3a" stroke-width="0.8" />
<line x1="97.08" y1="342.50" x2="97.08" y2="343.90" stroke="#3a3a3a" stroke-width="0.8" />
<line x1="141.12" y1="342.50" x2="141.12" y2="343.90" stroke="#3a3a3a" stroke-width="0.8" />
<line x1="185.18" y1="342.50" x2="185.18" y2="343.90" stroke="#3a3a3a" stroke-width="0.8" />
<text x="-0.18" y="0" font-size="9.2" fill="#111" textLength="32.04" lengthAdjust="spacingAndGlyphs" transform="translate(103.80,369.07) rotate(0)"  stroke="#111" stroke-width="0.22">Time (s)</text>
<text x="0" y="0" font-size="8.8" fill="#111" textLength="93.09" lengthAdjust="spacingAndGlyphs" transform="translate(8.97,317.90) rotate(-90)" stroke="#111" stroke-width="0.22">Current density (mA cm</text>
<text x="0" y="0" font-size="5.3" fill="#111" transform="translate(5.37,224.61) rotate(-90)" stroke="#111" stroke-width="0.22">-2</text>
<text x="0" y="0" font-size="8.8" fill="#111" transform="translate(8.97,219.46) rotate(-90)" stroke="#111" stroke-width="0.22">)</text>
<text x="-0.36" y="0" font-size="7.9" fill="#3a8cc6" textLength="44.76" lengthAdjust="spacingAndGlyphs" transform="translate(34.60,218.63) rotate(0)"  stroke="#3a8cc6" stroke-width="0.22">-26.8 mA cm</text>
<text x="79.40" y="216.20" font-size="4.8" fill="#3a8cc6" stroke="#3a8cc6" stroke-width="0.22">-2</text>
<text x="-0.36" y="0" font-size="7.9" fill="#e8707a" textLength="44.35" lengthAdjust="spacingAndGlyphs" transform="translate(35.20,235.43) rotate(0)"  stroke="#e8707a" stroke-width="0.22">-29.5 mA cm</text>
<text x="79.60" y="233.00" font-size="4.8" fill="#e8707a" stroke="#e8707a" stroke-width="0.22">-2</text>
<text x="-0.36" y="0" font-size="7.9" fill="#3a8cc6" textLength="44.56" lengthAdjust="spacingAndGlyphs" transform="translate(155.20,271.13) rotate(0)"  stroke="#3a8cc6" stroke-width="0.22">-35.5 mA cm</text>
<text x="199.60" y="268.70" font-size="4.8" fill="#3a8cc6" stroke="#3a8cc6" stroke-width="0.22">-2</text>
<text x="-0.36" y="0" font-size="7.9" fill="#e8707a" textLength="44.56" lengthAdjust="spacingAndGlyphs" transform="translate(154.70,318.43) rotate(0)"  stroke="#e8707a" stroke-width="0.22">-43.9 mA cm</text>
<text x="199.10" y="316.00" font-size="4.8" fill="#e8707a" stroke="#e8707a" stroke-width="0.22">-2</text>
<text x="-0.39" y="0" font-size="7.6" fill="#3a9a7a" textLength="40.61" lengthAdjust="spacingAndGlyphs" transform="translate(32.20,339.81) rotate(0)"  stroke="#3a9a7a" stroke-width="0.22">2D diffusion</text>
<text x="-0.30" y="0" font-size="7.6" fill="#333" textLength="40.02" lengthAdjust="spacingAndGlyphs" transform="translate(118.70,339.81) rotate(0)"  stroke="#333" stroke-width="0.22">3D diffusion</text>
<line x1="172.40" y1="210.40" x2="184.80" y2="210.40" stroke="#e8707a" stroke-width="1" />
<text x="-0.56" y="0" font-size="8.8" fill="#e8707a" textLength="13.57" lengthAdjust="spacingAndGlyphs" transform="translate(191.00,213.56) rotate(0)"  stroke="#e8707a" stroke-width="0.22">BZS</text>
<line x1="172.40" y1="222.50" x2="184.80" y2="222.50" stroke="#3a8cc6" stroke-width="1" />
<text x="-0.56" y="0" font-size="8.8" fill="#3a8cc6" textLength="13.57" lengthAdjust="spacingAndGlyphs" transform="translate(191.00,225.66) rotate(0)"  stroke="#3a8cc6" stroke-width="0.22">PZS</text>
<text x="-0.40" y="0" font-size="9.6" fill="#000" textLength="6.05" lengthAdjust="spacingAndGlyphs" font-weight="bold" transform="translate(-0.35,198.16) rotate(0)"  stroke="#000" stroke-width="0.0">d</text>
<polyline points="276.10,307.83 276.69,307.40 277.27,306.97 277.86,306.54 278.45,306.11 279.03,305.68 279.62,305.25 280.21,304.82 280.79,304.39 281.38,303.96 281.97,303.53 282.55,303.10 283.14,302.67 283.73,302.24 284.31,301.81 284.90,301.38 285.49,300.95 286.07,300.52 286.66,300.09 287.25,299.66 287.83,299.23 288.42,298.80 289.01,298.37 289.59,297.94 290.18,297.51 290.77,297.08 291.35,296.65 291.94,296.22 292.53,295.79 293.11,295.36 293.70,294.93 294.29,294.50 294.87,294.07 295.46,293.64 296.05,293.21 296.63,292.78 297.22,292.35 297.81,291.92 298.39,291.49 298.98,291.06 299.57,290.63 300.15,290.20 300.74,289.77 301.33,289.34 301.91,288.91 302.50,288.48 303.09,288.05 303.67,287.62 304.26,287.19 304.85,286.76 305.43,286.33 306.02,285.90 306.61,285.47 307.19,285.04 307.78,284.61 308.37,284.18 308.95,283.75 309.54,283.32 310.13,282.89 310.71,282.46 311.30,282.03 311.89,281.60 312.47,281.17 313.06,280.74 313.65,280.31 314.23,279.88 314.82,279.45 315.41,279.02 315.99,278.59 316.58,278.16 317.17,277.73 317.75,277.30 318.34,276.87 318.93,276.44 319.51,276.01 320.10,275.58 320.69,275.15 321.27,274.72 321.86,274.29 322.45,273.86 323.03,273.43 323.62,273.00 324.21,272.57 324.79,272.14 325.38,271.71 325.97,271.28 326.55,270.85 327.14,270.42 327.73,269.99 328.31,269.56 328.90,269.13 329.49,268.70 330.07,268.27 330.66,267.84 331.25,267.41 331.83,266.98 332.42,266.55 333.01,266.12 333.59,265.69 334.18,265.26 334.77,264.83 335.35,264.40 335.94,263.97 336.53,263.54 337.11,263.11 337.70,262.68 338.29,262.25 338.87,261.82 339.46,261.39 340.05,260.96 340.63,260.53 341.22,260.10 341.81,259.67 342.39,259.24 342.98,258.81 343.57,258.38 344.15,257.95 344.74,257.52 345.33,257.09 345.91,256.66 346.50,256.23 347.09,255.80 347.67,255.37 348.26,254.94 348.85,254.51 349.43,254.08 350.02,253.65 350.61,253.22 351.19,252.79 351.78,252.36 352.37,251.93 352.95,251.50 353.54,251.07 354.13,250.64 354.71,250.21 355.30,249.78 355.89,249.35 356.47,248.92 357.06,248.49 357.65,248.07 358.23,247.64 358.82,247.21 359.41,246.78 359.99,246.36 360.58,245.94 361.17,245.52 361.75,245.11 362.34,244.71 362.93,244.33 363.51,243.96 364.10,243.63 364.69,243.34 365.27,243.12 365.86,242.98 366.45,242.98 367.03,243.16 367.62,243.57 368.21,244.29 368.79,245.36 369.38,246.82 369.97,248.65 370.55,250.78 371.14,253.07 371.73,255.35 372.31,257.48 372.90,259.34 373.49,260.90 374.07,262.16 374.66,263.14 375.25,263.89 375.83,264.47 376.42,264.91 377.01,265.24 377.59,265.51 378.18,265.72 378.77,265.89 379.35,266.03 379.94,266.15 380.53,266.26 381.11,266.36 381.70,266.45 382.29,266.54 382.87,266.62 383.46,266.70 384.05,266.77 384.63,266.85 385.22,266.92 385.81,266.99 386.39,267.06 386.98,267.13 387.57,267.20 388.15,267.26 388.74,267.33 389.33,267.39 389.91,267.46 390.50,267.52 391.09,267.58 391.67,267.65 392.26,267.71 392.85,267.77 393.43,267.83 394.02,267.89 394.61,267.94 395.19,268.00 395.78,268.06 396.37,268.12 396.95,268.17 397.54,268.23 398.13,268.28 398.71,268.34 399.30,268.39 399.89,268.44 400.47,268.49 401.06,268.54 401.65,268.60 402.23,268.65 402.82,268.70 403.41,268.75 403.99,268.79 404.58,268.84 405.17,268.89 405.75,268.94 406.34,268.98 406.93,269.03 407.51,269.07 408.10,269.12 408.69,269.16 409.27,269.21 409.86,269.25 410.45,269.29 411.03,269.34 411.62,269.38 412.21,269.42 412.79,269.46 413.38,269.50 413.97,269.54 414.55,269.58 415.14,269.62 415.73,269.66 416.31,269.70 416.90,269.73" fill="none" stroke="#f2959c" stroke-width="0.65" stroke-linejoin="round" stroke-linecap="round" opacity="0.95"/>
<polyline points="416.90,272.31 413.45,272.36 408.66,272.43 402.96,272.51 396.77,272.59 390.50,272.65 383.88,272.71 376.63,272.76 369.17,272.81 361.92,272.85 355.30,272.88 349.29,272.91 343.62,272.93 338.31,272.94 333.39,272.95 328.90,272.97 324.81,272.97 321.09,272.96 317.79,272.95 314.96,272.96 312.62,273.00 310.97,273.06 309.96,273.13 309.35,273.22 308.86,273.36 308.22,273.58 307.48,273.83 306.79,274.12 306.13,274.47 305.45,274.93 304.70,275.53 304.20,275.97 303.96,276.22 303.53,276.75 302.46,278.01 300.30,280.49 296.34,284.96 290.89,291.12 284.99,297.78 279.71,303.75 276.10,307.83" fill="none" stroke="#f2959c" stroke-width="0.65" stroke-linejoin="round" stroke-linecap="round" opacity="0.95"/>
<polyline points="276.10,310.33 276.69,309.88 277.27,309.42 277.86,308.96 278.45,308.50 279.03,308.04 279.62,307.58 280.21,307.12 280.79,306.67 281.38,306.21 281.97,305.75 282.55,305.29 283.14,304.83 283.73,304.37 284.31,303.92 284.90,303.46 285.49,303.00 286.07,302.54 286.66,302.08 287.25,301.62 287.83,301.16 288.42,300.71 289.01,300.25 289.59,299.79 290.18,299.33 290.77,298.87 291.35,298.41 291.94,297.95 292.53,297.50 293.11,297.04 293.70,296.58 294.29,296.12 294.87,295.66 295.46,295.20 296.05,294.75 296.63,294.29 297.22,293.83 297.81,293.37 298.39,292.91 298.98,292.45 299.57,291.99 300.15,291.54 300.74,291.08 301.33,290.62 301.91,290.16 302.50,289.70 303.09,289.24 303.67,288.79 304.26,288.33 304.85,287.87 305.43,287.41 306.02,286.95 306.61,286.49 307.19,286.03 307.78,285.58 308.37,285.12 308.95,284.66 309.54,284.20 310.13,283.74 310.71,283.28 311.30,282.82 311.89,282.37 312.47,281.91 313.06,281.45 313.65,280.99 314.23,280.53 314.82,280.07 315.41,279.62 315.99,279.16 316.58,278.70 317.17,278.24 317.75,277.78 318.34,277.32 318.93,276.86 319.51,276.41 320.10,275.95 320.69,275.49 321.27,275.03 321.86,274.57 322.45,274.11 323.03,273.65 323.62,273.20 324.21,272.74 324.79,272.28 325.38,271.82 325.97,271.36 326.55,270.90 327.14,270.45 327.73,269.99 328.31,269.53 328.90,269.07 329.49,268.61 330.07,268.15 330.66,267.69 331.25,267.24 331.83,266.78 332.42,266.32 333.01,265.86 333.59,265.40 334.18,264.94 334.77,264.49 335.35,264.03 335.94,263.57 336.53,263.11 337.11,262.65 337.70,262.19 338.29,261.73 338.87,261.28 339.46,260.82 340.05,260.36 340.63,259.90 341.22,259.44 341.81,258.98 342.39,258.52 342.98,258.07 343.57,257.61 344.15,257.15 344.74,256.69 345.33,256.23 345.91,255.77 346.50,255.32 347.09,254.86 347.67,254.40 348.26,253.94 348.85,253.48 349.43,253.02 350.02,252.56 350.61,252.11 351.19,251.65 351.78,251.19 352.37,250.73 352.95,250.27 353.54,249.81 354.13,249.36 354.71,248.90 355.30,248.44 355.89,247.98 356.47,247.52 357.06,247.06 357.65,246.61 358.23,246.15 358.82,245.69 359.41,245.23 359.99,244.78 360.58,244.33 361.17,243.87 361.75,243.43 362.34,242.98 362.93,242.55 363.51,242.12 364.10,241.71 364.69,241.32 365.27,240.97 365.86,240.67 366.45,240.44 367.03,240.31 367.62,240.33 368.21,240.54 368.79,241.01 369.38,241.81 369.97,243.01 370.55,244.63 371.14,246.66 371.73,249.01 372.31,251.54 372.90,254.07 373.49,256.42 374.07,258.48 374.66,260.20 375.25,261.58 375.83,262.66 376.42,263.48 377.01,264.11 377.59,264.59 378.18,264.96 378.77,265.25 379.35,265.47 379.94,265.65 380.53,265.81 381.11,265.94 381.70,266.05 382.29,266.15 382.87,266.25 383.46,266.34 384.05,266.42 384.63,266.50 385.22,266.58 385.81,266.66 386.39,266.73 386.98,266.80 387.57,266.88 388.15,266.95 388.74,267.02 389.33,267.09 389.91,267.15 390.50,267.22 391.09,267.29 391.67,267.35 392.26,267.42 392.85,267.48 393.43,267.54 394.02,267.61 394.61,267.67 395.19,267.73 395.78,267.79 396.37,267.85 396.95,267.91 397.54,267.97 398.13,268.02 398.71,268.08 399.30,268.14 399.89,268.19 400.47,268.25 401.06,268.30 401.65,268.35 402.23,268.41 402.82,268.46 403.41,268.51 403.99,268.56 404.58,268.61 405.17,268.66 405.75,268.71 406.34,268.76 406.93,268.81 407.51,268.86 408.10,268.91 408.69,268.95 409.27,269.00 409.86,269.05 410.45,269.09 411.03,269.14 411.62,269.18 412.21,269.22 412.79,269.27 413.38,269.31 413.97,269.35 414.55,269.39 415.14,269.43 415.73,269.47 416.31,269.51 416.90,269.55" fill="none" stroke="#f2959c" stroke-width="0.65" stroke-linejoin="round" stroke-linecap="round" opacity="0.95"/>
<polyline points="416.90,272.31 413.45,272.36 408.66,272.43 402.96,272.51 396.77,272.59 390.50,272.65 383.88,272.71 376.63,272.76 369.17,272.81 361.92,272.85 355.30,272.88 349.26,272.91 343.53,272.93 338.17,272.94 333.27,272.95 328.90,272.97 325.09,272.97 321.79,272.96 318.96,272.95 316.54,272.96 314.49,273.00 312.96,273.06 311.97,273.13 311.31,273.22 310.75,273.36 310.09,273.58 309.34,273.83 308.66,274.12 308.00,274.47 307.32,274.93 306.57,275.53 306.09,275.93 305.91,276.10 305.53,276.57 304.45,277.85 302.17,280.49 297.93,285.34 292.05,292.07 285.69,299.35 279.99,305.88 276.10,310.33" fill="none" stroke="#f2959c" stroke-width="0.65" stroke-linejoin="round" stroke-linecap="round" opacity="0.95"/>
<polyline points="276.10,312.86 276.69,312.38 277.27,311.89 277.86,311.40 278.45,310.92 279.03,310.43 279.62,309.94 280.21,309.46 280.79,308.97 281.38,308.48 281.97,307.99 282.55,307.51 283.14,307.02 283.73,306.53 284.31,306.05 284.90,305.56 285.49,305.07 286.07,304.59 286.66,304.10 287.25,303.61 287.83,303.12 288.42,302.64 289.01,302.15 289.59,301.66 290.18,301.18 290.77,300.69 291.35,300.20 291.94,299.72 292.53,299.23 293.11,298.74 293.70,298.25 294.29,297.77 294.87,297.28 295.46,296.79 296.05,296.31 296.63,295.82 297.22,295.33 297.81,294.85 298.39,294.36 298.98,293.87 299.57,293.38 300.15,292.90 300.74,292.41 301.33,291.92 301.91,291.44 302.50,290.95 303.09,290.46 303.67,289.98 304.26,289.49 304.85,289.00 305.43,288.51 306.02,288.03 306.61,287.54 307.19,287.05 307.78,286.57 308.37,286.08 308.95,285.59 309.54,285.11 310.13,284.62 310.71,284.13 311.30,283.64 311.89,283.16 312.47,282.67 313.06,282.18 313.65,281.70 314.23,281.21 314.82,280.72 315.41,280.24 315.99,279.75 316.58,279.26 317.17,278.77 317.75,278.29 318.34,277.80 318.93,277.31 319.51,276.83 320.10,276.34 320.69,275.85 321.27,275.37 321.86,274.88 322.45,274.39 323.03,273.90 323.62,273.42 324.21,272.93 324.79,272.44 325.38,271.96 325.97,271.47 326.55,270.98 327.14,270.50 327.73,270.01 328.31,269.52 328.90,269.03 329.49,268.55 330.07,268.06 330.66,267.57 331.25,267.09 331.83,266.60 332.42,266.11 333.01,265.63 333.59,265.14 334.18,264.65 334.77,264.16 335.35,263.68 335.94,263.19 336.53,262.70 337.11,262.22 337.70,261.73 338.29,261.24 338.87,260.76 339.46,260.27 340.05,259.78 340.63,259.29 341.22,258.81 341.81,258.32 342.39,257.83 342.98,257.35 343.57,256.86 344.15,256.37 344.74,255.89 345.33,255.40 345.91,254.91 346.50,254.42 347.09,253.94 347.67,253.45 348.26,252.96 348.85,252.48 349.43,251.99 350.02,251.50 350.61,251.02 351.19,250.53 351.78,250.04 352.37,249.55 352.95,249.07 353.54,248.58 354.13,248.09 354.71,247.61 355.30,247.12 355.89,246.63 356.47,246.15 357.06,245.66 357.65,245.17 358.23,244.69 358.82,244.20 359.41,243.71 359.99,243.23 360.58,242.74 361.17,242.26 361.75,241.78 362.34,241.30 362.93,240.82 363.51,240.35 364.10,239.89 364.69,239.44 365.27,239.01 365.86,238.60 366.45,238.23 367.03,237.91 367.62,237.68 368.21,237.55 368.79,237.58 369.38,237.83 369.97,238.36 370.55,239.26 371.14,240.58 371.73,242.37 372.31,244.60 372.90,247.19 373.49,249.97 374.07,252.75 374.66,255.33 375.25,257.59 375.83,259.47 376.42,260.99 377.01,262.17 377.59,263.07 378.18,263.76 378.77,264.28 379.35,264.68 379.94,264.98 380.53,265.22 381.11,265.42 381.70,265.58 382.29,265.72 382.87,265.84 383.46,265.95 384.05,266.04 384.63,266.14 385.22,266.22 385.81,266.31 386.39,266.39 386.98,266.47 387.57,266.54 388.15,266.62 388.74,266.69 389.33,266.77 389.91,266.84 390.50,266.91 391.09,266.98 391.67,267.05 392.26,267.12 392.85,267.18 393.43,267.25 394.02,267.32 394.61,267.38 395.19,267.44 395.78,267.51 396.37,267.57 396.95,267.63 397.54,267.69 398.13,267.76 398.71,267.82 399.30,267.87 399.89,267.93 400.47,267.99 401.06,268.05 401.65,268.10 402.23,268.16 402.82,268.22 403.41,268.27 403.99,268.32 404.58,268.38 405.17,268.43 405.75,268.48 406.34,268.53 406.93,268.59 407.51,268.64 408.10,268.69 408.69,268.74 409.27,268.78 409.86,268.83 410.45,268.88 411.03,268.93 411.62,268.97 412.21,269.02 412.79,269.07 413.38,269.11 413.97,269.15 414.55,269.20 415.14,269.24 415.73,269.28 416.31,269.33 416.90,269.37" fill="none" stroke="#f2959c" stroke-width="0.65" stroke-linejoin="round" stroke-linecap="round" opacity="0.95"/>
<polyline points="416.90,272.31 413.45,272.36 408.66,272.43 402.96,272.51 396.77,272.59 390.50,272.65 383.88,272.71 376.63,272.76 369.17,272.81 361.92,272.85 355.30,272.88 349.23,272.91 343.44,272.93 338.04,272.94 333.15,272.95 328.90,272.97 325.38,272.97 322.50,272.96 320.14,272.95 318.14,272.96 316.38,273.00 314.96,273.06 313.99,273.13 313.28,273.22 312.67,273.36 311.98,273.58 311.23,273.83 310.55,274.12 309.89,274.47 309.20,274.93 308.46,275.53 308.01,275.89 307.89,275.98 307.56,276.39 306.46,277.69 304.06,280.49 299.53,285.72 293.23,293.02 286.40,300.93 280.28,308.02 276.10,312.86" fill="none" stroke="#f2959c" stroke-width="0.65" stroke-linejoin="round" stroke-linecap="round" opacity="0.95"/>
<polyline points="276.10,315.42 276.69,314.90 277.27,314.39 277.86,313.87 278.45,313.36 279.03,312.84 279.62,312.33 280.21,311.81 280.79,311.30 281.38,310.78 281.97,310.26 282.55,309.75 283.14,309.23 283.73,308.72 284.31,308.20 284.90,307.69 285.49,307.17 286.07,306.66 286.66,306.14 287.25,305.63 287.83,305.11 288.42,304.59 289.01,304.08 289.59,303.56 290.18,303.05 290.77,302.53 291.35,302.02 291.94,301.50 292.53,300.99 293.11,300.47 293.70,299.95 294.29,299.44 294.87,298.92 295.46,298.41 296.05,297.89 296.63,297.38 297.22,296.86 297.81,296.35 298.39,295.83 298.98,295.31 299.57,294.80 300.15,294.28 300.74,293.77 301.33,293.25 301.91,292.74 302.50,292.22 303.09,291.71 303.67,291.19 304.26,290.68 304.85,290.16 305.43,289.64 306.02,289.13 306.61,288.61 307.19,288.10 307.78,287.58 308.37,287.07 308.95,286.55 309.54,286.04 310.13,285.52 310.71,285.00 311.30,284.49 311.89,283.97 312.47,283.46 313.06,282.94 313.65,282.43 314.23,281.91 314.82,281.40 315.41,280.88 315.99,280.36 316.58,279.85 317.17,279.33 317.75,278.82 318.34,278.30 318.93,277.79 319.51,277.27 320.10,276.76 320.69,276.24 321.27,275.72 321.86,275.21 322.45,274.69 323.03,274.18 323.62,273.66 324.21,273.15 324.79,272.63 325.38,272.12 325.97,271.60 326.55,271.09 327.14,270.57 327.73,270.05 328.31,269.54 328.90,269.02 329.49,268.51 330.07,267.99 330.66,267.48 331.25,266.96 331.83,266.45 332.42,265.93 333.01,265.41 333.59,264.90 334.18,264.38 334.77,263.87 335.35,263.35 335.94,262.84 336.53,262.32 337.11,261.81 337.70,261.29 338.29,260.77 338.87,260.26 339.46,259.74 340.05,259.23 340.63,258.71 341.22,258.20 341.81,257.68 342.39,257.17 342.98,256.65 343.57,256.14 344.15,255.62 344.74,255.10 345.33,254.59 345.91,254.07 346.50,253.56 347.09,253.04 347.67,252.53 348.26,252.01 348.85,251.50 349.43,250.98 350.02,250.46 350.61,249.95 351.19,249.43 351.78,248.92 352.37,248.40 352.95,247.89 353.54,247.37 354.13,246.86 354.71,246.34 355.30,245.82 355.89,245.31 356.47,244.79 357.06,244.28 357.65,243.76 358.23,243.25 358.82,242.73 359.41,242.22 359.99,241.70 360.58,241.19 361.17,240.67 361.75,240.16 362.34,239.65 362.93,239.14 363.51,238.63 364.10,238.13 364.69,237.63 365.27,237.14 365.86,236.67 366.45,236.21 367.03,235.78 367.62,235.40 368.21,235.07 368.79,234.83 369.38,234.71 369.97,234.76 370.55,235.04 371.14,235.63 371.73,236.62 372.31,238.07 372.90,240.03 373.49,242.48 374.07,245.32 374.66,248.35 375.25,251.38 375.83,254.20 376.42,256.67 377.01,258.73 377.59,260.38 378.18,261.67 378.77,262.65 379.35,263.40 379.94,263.96 380.53,264.39 381.11,264.72 381.70,264.98 382.29,265.18 382.87,265.35 383.46,265.50 384.05,265.63 384.63,265.74 385.22,265.84 385.81,265.94 386.39,266.03 386.98,266.11 387.57,266.20 388.15,266.28 388.74,266.36 389.33,266.43 389.91,266.51 390.50,266.59 391.09,266.66 391.67,266.73 392.26,266.80 392.85,266.88 393.43,266.95 394.02,267.01 394.61,267.08 395.19,267.15 395.78,267.22 396.37,267.28 396.95,267.35 397.54,267.41 398.13,267.48 398.71,267.54 399.30,267.60 399.89,267.66 400.47,267.73 401.06,267.79 401.65,267.85 402.23,267.90 402.82,267.96 403.41,268.02 403.99,268.08 404.58,268.13 405.17,268.19 405.75,268.24 406.34,268.30 406.93,268.35 407.51,268.41 408.10,268.46 408.69,268.51 409.27,268.56 409.86,268.61 410.45,268.66 411.03,268.71 411.62,268.76 412.21,268.81 412.79,268.86 413.38,268.90 413.97,268.95 414.55,269.00 415.14,269.04 415.73,269.09 416.31,269.13 416.90,269.18" fill="none" stroke="#f2959c" stroke-width="0.65" stroke-linejoin="round" stroke-linecap="round" opacity="0.95"/>
<polyline points="416.90,272.31 413.45,272.36 408.66,272.43 402.96,272.51 396.77,272.59 390.50,272.65 383.88,272.71 376.63,272.76 369.17,272.81 361.92,272.85 355.30,272.88 349.20,272.91 343.35,272.93 337.90,272.94 333.03,272.95 328.90,272.97 325.67,272.97 323.22,272.96 321.32,272.95 319.76,272.96 318.28,273.00 316.99,273.06 316.03,273.13 315.28,273.22 314.61,273.36 313.88,273.58 313.14,273.83 312.45,274.12 311.79,274.47 311.11,274.93 310.36,275.53 309.95,275.85 309.89,275.86 309.60,276.20 308.49,277.53 305.96,280.49 301.14,286.11 294.42,293.98 287.12,302.52 280.57,310.19 276.10,315.42" fill="none" stroke="#f2959c" stroke-width="0.65" stroke-linejoin="round" stroke-linecap="round" opacity="0.95"/>
<polyline points="276.10,318.00 276.69,317.46 277.27,316.91 277.86,316.37 278.45,315.82 279.03,315.28 279.62,314.74 280.21,314.19 280.79,313.65 281.38,313.10 281.97,312.56 282.55,312.02 283.14,311.47 283.73,310.93 284.31,310.38 284.90,309.84 285.49,309.30 286.07,308.75 286.66,308.21 287.25,307.66 287.83,307.12 288.42,306.58 289.01,306.03 289.59,305.49 290.18,304.94 290.77,304.40 291.35,303.85 291.94,303.31 292.53,302.77 293.11,302.22 293.70,301.68 294.29,301.13 294.87,300.59 295.46,300.05 296.05,299.50 296.63,298.96 297.22,298.41 297.81,297.87 298.39,297.33 298.98,296.78 299.57,296.24 300.15,295.69 300.74,295.15 301.33,294.61 301.91,294.06 302.50,293.52 303.09,292.97 303.67,292.43 304.26,291.89 304.85,291.34 305.43,290.80 306.02,290.25 306.61,289.71 307.19,289.17 307.78,288.62 308.37,288.08 308.95,287.53 309.54,286.99 310.13,286.45 310.71,285.90 311.30,285.36 311.89,284.81 312.47,284.27 313.06,283.73 313.65,283.18 314.23,282.64 314.82,282.09 315.41,281.55 315.99,281.01 316.58,280.46 317.17,279.92 317.75,279.37 318.34,278.83 318.93,278.28 319.51,277.74 320.10,277.20 320.69,276.65 321.27,276.11 321.86,275.56 322.45,275.02 323.03,274.48 323.62,273.93 324.21,273.39 324.79,272.84 325.38,272.30 325.97,271.76 326.55,271.21 327.14,270.67 327.73,270.12 328.31,269.58 328.90,269.04 329.49,268.49 330.07,267.95 330.66,267.40 331.25,266.86 331.83,266.32 332.42,265.77 333.01,265.23 333.59,264.68 334.18,264.14 334.77,263.60 335.35,263.05 335.94,262.51 336.53,261.96 337.11,261.42 337.70,260.88 338.29,260.33 338.87,259.79 339.46,259.24 340.05,258.70 340.63,258.16 341.22,257.61 341.81,257.07 342.39,256.52 342.98,255.98 343.57,255.44 344.15,254.89 344.74,254.35 345.33,253.80 345.91,253.26 346.50,252.72 347.09,252.17 347.67,251.63 348.26,251.08 348.85,250.54 349.43,249.99 350.02,249.45 350.61,248.91 351.19,248.36 351.78,247.82 352.37,247.27 352.95,246.73 353.54,246.19 354.13,245.64 354.71,245.10 355.30,244.55 355.89,244.01 356.47,243.47 357.06,242.92 357.65,242.38 358.23,241.83 358.82,241.29 359.41,240.75 359.99,240.20 360.58,239.66 361.17,239.12 361.75,238.57 362.34,238.03 362.93,237.49 363.51,236.95 364.10,236.41 364.69,235.88 365.27,235.35 365.86,234.82 366.45,234.31 367.03,233.81 367.62,233.33 368.21,232.88 368.79,232.48 369.38,232.14 369.97,231.89 370.55,231.77 371.14,231.84 371.73,232.17 372.31,232.82 372.90,233.91 373.49,235.50 374.07,237.63 374.66,240.30 375.25,243.38 375.83,246.69 376.42,249.98 377.01,253.05 377.59,255.74 378.18,257.97 378.77,259.76 379.35,261.16 379.94,262.22 380.53,263.03 381.11,263.64 381.70,264.10 382.29,264.45 382.87,264.73 383.46,264.95 384.05,265.13 384.63,265.28 385.22,265.41 385.81,265.53 386.39,265.64 386.98,265.74 387.57,265.83 388.15,265.92 388.74,266.00 389.33,266.09 389.91,266.17 390.50,266.25 391.09,266.33 391.67,266.40 392.26,266.48 392.85,266.56 393.43,266.63 394.02,266.70 394.61,266.77 395.19,266.85 395.78,266.92 396.37,266.99 396.95,267.05 397.54,267.12 398.13,267.19 398.71,267.26 399.30,267.32 399.89,267.39 400.47,267.45 401.06,267.51 401.65,267.58 402.23,267.64 402.82,267.70 403.41,267.76 403.99,267.82 404.58,267.88 405.17,267.94 405.75,268.00 406.34,268.05 406.93,268.11 407.51,268.17 408.10,268.22 408.69,268.28 409.27,268.33 409.86,268.38 410.45,268.44 411.03,268.49 411.62,268.54 412.21,268.59 412.79,268.64 413.38,268.69 413.97,268.74 414.55,268.79 415.14,268.84 415.73,268.88 416.31,268.93 416.90,268.98" fill="none" stroke="#f2959c" stroke-width="0.65" stroke-linejoin="round" stroke-linecap="round" opacity="0.95"/>
<polyline points="416.90,272.31 413.45,272.36 408.66,272.43 402.96,272.51 396.77,272.59 390.50,272.65 383.88,272.71 376.63,272.76 369.17,272.81 361.92,272.85 355.30,272.88 349.17,272.91 343.26,272.93 337.76,272.94 332.91,272.95 328.90,272.97 325.96,272.97 323.94,272.96 322.52,272.95 321.39,272.96 320.21,273.00 319.04,273.06 318.09,273.13 317.30,273.22 316.56,273.36 315.81,273.58 315.06,273.83 314.38,274.12 313.71,274.47 313.03,274.93 312.29,275.53 311.90,275.81 311.90,275.74 311.66,276.02 310.53,277.36 307.89,280.49 302.77,286.51 295.62,294.95 287.84,304.13 280.86,312.38 276.10,318.00" fill="none" stroke="#f2959c" stroke-width="0.65" stroke-linejoin="round" stroke-linecap="round" opacity="0.95"/>
<polyline points="276.10,320.60 276.69,320.03 277.27,319.46 277.86,318.89 278.45,318.31 279.03,317.74 279.62,317.17 280.21,316.60 280.79,316.02 281.38,315.45 281.97,314.88 282.55,314.31 283.14,313.73 283.73,313.16 284.31,312.59 284.90,312.02 285.49,311.44 286.07,310.87 286.66,310.30 287.25,309.73 287.83,309.15 288.42,308.58 289.01,308.01 289.59,307.44 290.18,306.86 290.77,306.29 291.35,305.72 291.94,305.15 292.53,304.57 293.11,304.00 293.70,303.43 294.29,302.85 294.87,302.28 295.46,301.71 296.05,301.14 296.63,300.56 297.22,299.99 297.81,299.42 298.39,298.85 298.98,298.27 299.57,297.70 300.15,297.13 300.74,296.56 301.33,295.98 301.91,295.41 302.50,294.84 303.09,294.27 303.67,293.69 304.26,293.12 304.85,292.55 305.43,291.98 306.02,291.40 306.61,290.83 307.19,290.26 307.78,289.69 308.37,289.11 308.95,288.54 309.54,287.97 310.13,287.40 310.71,286.82 311.30,286.25 311.89,285.68 312.47,285.11 313.06,284.53 313.65,283.96 314.23,283.39 314.82,282.82 315.41,282.24 315.99,281.67 316.58,281.10 317.17,280.53 317.75,279.95 318.34,279.38 318.93,278.81 319.51,278.23 320.10,277.66 320.69,277.09 321.27,276.52 321.86,275.94 322.45,275.37 323.03,274.80 323.62,274.23 324.21,273.65 324.79,273.08 325.38,272.51 325.97,271.94 326.55,271.36 327.14,270.79 327.73,270.22 328.31,269.65 328.90,269.07 329.49,268.50 330.07,267.93 330.66,267.36 331.25,266.78 331.83,266.21 332.42,265.64 333.01,265.07 333.59,264.49 334.18,263.92 334.77,263.35 335.35,262.78 335.94,262.20 336.53,261.63 337.11,261.06 337.70,260.49 338.29,259.91 338.87,259.34 339.46,258.77 340.05,258.20 340.63,257.62 341.22,257.05 341.81,256.48 342.39,255.91 342.98,255.33 343.57,254.76 344.15,254.19 344.74,253.61 345.33,253.04 345.91,252.47 346.50,251.90 347.09,251.32 347.67,250.75 348.26,250.18 348.85,249.61 349.43,249.03 350.02,248.46 350.61,247.89 351.19,247.32 351.78,246.74 352.37,246.17 352.95,245.60 353.54,245.03 354.13,244.45 354.71,243.88 355.30,243.31 355.89,242.74 356.47,242.16 357.06,241.59 357.65,241.02 358.23,240.45 358.82,239.87 359.41,239.30 359.99,238.73 360.58,238.16 361.17,237.58 361.75,237.01 362.34,236.44 362.93,235.87 363.51,235.30 364.10,234.73 364.69,234.16 365.27,233.60 365.86,233.03 366.45,232.48 367.03,231.92 367.62,231.38 368.21,230.86 368.79,230.36 369.38,229.89 369.97,229.47 370.55,229.11 371.14,228.86 371.73,228.75 372.31,228.84 372.90,229.21 373.49,229.93 374.07,231.11 374.66,232.84 375.25,235.16 375.83,238.05 376.42,241.39 377.01,244.97 377.59,248.54 378.18,251.86 378.77,254.77 379.35,257.19 379.94,259.13 380.53,260.64 381.11,261.79 381.70,262.66 382.29,263.31 382.87,263.80 383.46,264.18 384.05,264.48 384.63,264.71 385.22,264.90 385.81,265.06 386.39,265.20 386.98,265.32 387.57,265.43 388.15,265.53 388.74,265.63 389.33,265.72 389.91,265.81 390.50,265.90 391.09,265.98 391.67,266.06 392.26,266.14 392.85,266.22 393.43,266.30 394.02,266.38 394.61,266.45 395.19,266.53 395.78,266.60 396.37,266.68 396.95,266.75 397.54,266.82 398.13,266.89 398.71,266.96 399.30,267.03 399.89,267.10 400.47,267.17 401.06,267.23 401.65,267.30 402.23,267.36 402.82,267.43 403.41,267.49 403.99,267.55 404.58,267.62 405.17,267.68 405.75,267.74 406.34,267.80 406.93,267.86 407.51,267.92 408.10,267.98 408.69,268.03 409.27,268.09 409.86,268.15 410.45,268.20 411.03,268.26 411.62,268.31 412.21,268.36 412.79,268.42 413.38,268.47 413.97,268.52 414.55,268.57 415.14,268.62 415.73,268.67 416.31,268.72 416.90,268.77" fill="none" stroke="#f2959c" stroke-width="0.65" stroke-linejoin="round" stroke-linecap="round" opacity="0.95"/>
<polyline points="416.90,272.31 413.45,272.36 408.66,272.43 402.96,272.51 396.77,272.59 390.50,272.65 383.88,272.71 376.63,272.76 369.17,272.81 361.92,272.85 355.30,272.88 349.14,272.91 343.16,272.93 337.62,272.94 332.78,272.95 328.90,272.97 326.25,272.97 324.67,272.96 323.74,272.95 323.03,272.96 322.15,273.00 321.10,273.06 320.17,273.13 319.33,273.22 318.53,273.36 317.75,273.58 317.00,273.83 316.32,274.12 315.66,274.47 314.97,274.93 314.23,275.53 313.87,275.77 313.94,275.61 313.74,275.83 312.60,277.20 309.83,280.49 304.42,286.90 296.83,295.93 288.57,305.76 281.16,314.59 276.10,320.60" fill="none" stroke="#f2959c" stroke-width="0.65" stroke-linejoin="round" stroke-linecap="round" opacity="0.95"/>
<polyline points="276.10,323.23 276.69,322.63 277.27,322.03 277.86,321.43 278.45,320.83 279.03,320.23 279.62,319.63 280.21,319.03 280.79,318.42 281.38,317.82 281.97,317.22 282.55,316.62 283.14,316.02 283.73,315.42 284.31,314.82 284.90,314.22 285.49,313.62 286.07,313.01 286.66,312.41 287.25,311.81 287.83,311.21 288.42,310.61 289.01,310.01 289.59,309.41 290.18,308.81 290.77,308.21 291.35,307.60 291.94,307.00 292.53,306.40 293.11,305.80 293.70,305.20 294.29,304.60 294.87,304.00 295.46,303.40 296.05,302.80 296.63,302.20 297.22,301.59 297.81,300.99 298.39,300.39 298.98,299.79 299.57,299.19 300.15,298.59 300.74,297.99 301.33,297.39 301.91,296.79 302.50,296.18 303.09,295.58 303.67,294.98 304.26,294.38 304.85,293.78 305.43,293.18 306.02,292.58 306.61,291.98 307.19,291.38 307.78,290.77 308.37,290.17 308.95,289.57 309.54,288.97 310.13,288.37 310.71,287.77 311.30,287.17 311.89,286.57 312.47,285.97 313.06,285.37 313.65,284.76 314.23,284.16 314.82,283.56 315.41,282.96 315.99,282.36 316.58,281.76 317.17,281.16 317.75,280.56 318.34,279.96 318.93,279.35 319.51,278.75 320.10,278.15 320.69,277.55 321.27,276.95 321.86,276.35 322.45,275.75 323.03,275.15 323.62,274.55 324.21,273.94 324.79,273.34 325.38,272.74 325.97,272.14 326.55,271.54 327.14,270.94 327.73,270.34 328.31,269.74 328.90,269.14 329.49,268.53 330.07,267.93 330.66,267.33 331.25,266.73 331.83,266.13 332.42,265.53 333.01,264.93 333.59,264.33 334.18,263.73 334.77,263.13 335.35,262.52 335.94,261.92 336.53,261.32 337.11,260.72 337.70,260.12 338.29,259.52 338.87,258.92 339.46,258.32 340.05,257.72 340.63,257.11 341.22,256.51 341.81,255.91 342.39,255.31 342.98,254.71 343.57,254.11 344.15,253.51 344.74,252.91 345.33,252.31 345.91,251.70 346.50,251.10 347.09,250.50 347.67,249.90 348.26,249.30 348.85,248.70 349.43,248.10 350.02,247.50 350.61,246.90 351.19,246.29 351.78,245.69 352.37,245.09 352.95,244.49 353.54,243.89 354.13,243.29 354.71,242.69 355.30,242.09 355.89,241.49 356.47,240.89 357.06,240.28 357.65,239.68 358.23,239.08 358.82,238.48 359.41,237.88 359.99,237.28 360.58,236.68 361.17,236.08 361.75,235.48 362.34,234.88 362.93,234.28 363.51,233.68 364.10,233.08 364.69,232.48 365.27,231.88 365.86,231.28 366.45,230.69 367.03,230.10 367.62,229.51 368.21,228.94 368.79,228.37 369.38,227.82 369.97,227.29 370.55,226.80 371.14,226.37 371.73,226.00 372.31,225.75 372.90,225.64 373.49,225.76 374.07,226.16 374.66,226.96 375.25,228.24 375.83,230.11 376.42,232.62 377.01,235.74 377.59,239.34 378.18,243.21 378.77,247.06 379.35,250.65 379.94,253.78 380.53,256.40 381.11,258.49 381.70,260.11 382.29,261.35 382.87,262.28 383.46,262.98 384.05,263.51 384.63,263.91 385.22,264.22 385.81,264.47 386.39,264.67 386.98,264.84 387.57,264.98 388.15,265.11 388.74,265.23 389.33,265.33 389.91,265.43 390.50,265.53 391.09,265.62 391.67,265.71 392.26,265.79 392.85,265.88 393.43,265.96 394.02,266.04 394.61,266.12 395.19,266.20 395.78,266.28 396.37,266.36 396.95,266.43 397.54,266.51 398.13,266.58 398.71,266.66 399.30,266.73 399.89,266.80 400.47,266.87 401.06,266.94 401.65,267.01 402.23,267.08 402.82,267.15 403.41,267.21 403.99,267.28 404.58,267.34 405.17,267.41 405.75,267.47 406.34,267.54 406.93,267.60 407.51,267.66 408.10,267.72 408.69,267.78 409.27,267.84 409.86,267.90 410.45,267.96 411.03,268.02 411.62,268.07 412.21,268.13 412.79,268.19 413.38,268.24 413.97,268.29 414.55,268.35 415.14,268.40 415.73,268.45 416.31,268.51 416.90,268.56" fill="none" stroke="#f2959c" stroke-width="0.65" stroke-linejoin="round" stroke-linecap="round" opacity="0.95"/>
<polyline points="416.90,272.31 413.45,272.36 408.66,272.43 402.96,272.51 396.77,272.59 390.50,272.65 383.88,272.71 376.63,272.76 369.17,272.81 361.92,272.85 355.30,272.88 349.11,272.91 343.07,272.93 337.48,272.94 332.66,272.95 328.90,272.97 326.55,272.97 325.41,272.96 324.96,272.95 324.69,272.96 324.11,273.00 323.19,273.06 322.28,273.13 321.38,273.22 320.52,273.36 319.71,273.58 318.96,273.83 318.28,274.12 317.62,274.47 316.93,274.93 316.19,275.53 315.86,275.73 315.99,275.48 315.84,275.64 314.68,277.03 311.79,280.49 306.08,287.30 298.05,296.92 289.31,307.40 281.45,316.81 276.10,323.23" fill="none" stroke="#f2959c" stroke-width="0.65" stroke-linejoin="round" stroke-linecap="round" opacity="0.95"/>
<polyline points="276.10,325.89 276.69,325.26 277.27,324.63 277.86,324.00 278.45,323.37 279.03,322.74 279.62,322.11 280.21,321.48 280.79,320.85 281.38,320.22 281.97,319.59 282.55,318.96 283.14,318.33 283.73,317.70 284.31,317.07 284.90,316.44 285.49,315.81 286.07,315.18 286.66,314.55 287.25,313.92 287.83,313.29 288.42,312.66 289.01,312.03 289.59,311.41 290.18,310.78 290.77,310.15 291.35,309.52 291.94,308.89 292.53,308.26 293.11,307.63 293.70,307.00 294.29,306.37 294.87,305.74 295.46,305.11 296.05,304.48 296.63,303.85 297.22,303.22 297.81,302.59 298.39,301.96 298.98,301.33 299.57,300.70 300.15,300.07 300.74,299.44 301.33,298.81 301.91,298.18 302.50,297.55 303.09,296.92 303.67,296.30 304.26,295.67 304.85,295.04 305.43,294.41 306.02,293.78 306.61,293.15 307.19,292.52 307.78,291.89 308.37,291.26 308.95,290.63 309.54,290.00 310.13,289.37 310.71,288.74 311.30,288.11 311.89,287.48 312.47,286.85 313.06,286.22 313.65,285.59 314.23,284.96 314.82,284.33 315.41,283.70 315.99,283.07 316.58,282.44 317.17,281.81 317.75,281.18 318.34,280.56 318.93,279.93 319.51,279.30 320.10,278.67 320.69,278.04 321.27,277.41 321.86,276.78 322.45,276.15 323.03,275.52 323.62,274.89 324.21,274.26 324.79,273.63 325.38,273.00 325.97,272.37 326.55,271.74 327.14,271.11 327.73,270.48 328.31,269.85 328.90,269.22 329.49,268.59 330.07,267.96 330.66,267.33 331.25,266.70 331.83,266.07 332.42,265.44 333.01,264.82 333.59,264.19 334.18,263.56 334.77,262.93 335.35,262.30 335.94,261.67 336.53,261.04 337.11,260.41 337.70,259.78 338.29,259.15 338.87,258.52 339.46,257.89 340.05,257.26 340.63,256.63 341.22,256.00 341.81,255.37 342.39,254.74 342.98,254.11 343.57,253.48 344.15,252.85 344.74,252.22 345.33,251.59 345.91,250.96 346.50,250.33 347.09,249.70 347.67,249.08 348.26,248.45 348.85,247.82 349.43,247.19 350.02,246.56 350.61,245.93 351.19,245.30 351.78,244.67 352.37,244.04 352.95,243.41 353.54,242.78 354.13,242.15 354.71,241.52 355.30,240.89 355.89,240.26 356.47,239.63 357.06,239.00 357.65,238.37 358.23,237.74 358.82,237.11 359.41,236.48 359.99,235.85 360.58,235.22 361.17,234.59 361.75,233.97 362.34,233.34 362.93,232.71 363.51,232.08 364.10,231.45 364.69,230.82 365.27,230.19 365.86,229.57 366.45,228.94 367.03,228.31 367.62,227.69 368.21,227.08 368.79,226.46 369.38,225.86 369.97,225.27 370.55,224.69 371.14,224.14 371.73,223.63 372.31,223.18 372.90,222.80 373.49,222.55 374.07,222.45 374.66,222.59 375.25,223.03 375.83,223.90 376.42,225.29 377.01,227.31 377.59,230.01 378.18,233.36 378.77,237.24 379.35,241.40 379.94,245.54 380.53,249.39 381.11,252.77 381.70,255.58 382.29,257.82 382.87,259.57 383.46,260.90 384.05,261.90 384.63,262.65 385.22,263.21 385.81,263.64 386.39,263.97 386.98,264.23 387.57,264.44 388.15,264.62 388.74,264.77 389.33,264.90 389.91,265.02 390.50,265.13 391.09,265.23 391.67,265.33 392.26,265.43 392.85,265.52 393.43,265.61 394.02,265.69 394.61,265.78 395.19,265.86 395.78,265.94 396.37,266.02 396.95,266.10 397.54,266.18 398.13,266.26 398.71,266.34 399.30,266.42 399.89,266.49 400.47,266.56 401.06,266.64 401.65,266.71 402.23,266.78 402.82,266.85 403.41,266.92 403.99,266.99 404.58,267.06 405.17,267.13 405.75,267.20 406.34,267.26 406.93,267.33 407.51,267.39 408.10,267.46 408.69,267.52 409.27,267.58 409.86,267.65 410.45,267.71 411.03,267.77 411.62,267.83 412.21,267.89 412.79,267.94 413.38,268.00 413.97,268.06 414.55,268.12 415.14,268.17 415.73,268.23 416.31,268.28 416.90,268.34" fill="none" stroke="#f2959c" stroke-width="0.65" stroke-linejoin="round" stroke-linecap="round" opacity="0.95"/>
<polyline points="416.90,272.31 413.45,272.36 408.66,272.43 402.96,272.51 396.77,272.59 390.50,272.65 383.88,272.71 376.63,272.76 369.17,272.81 361.92,272.85 355.30,272.88 349.08,272.91 342.97,272.93 337.34,272.94 332.53,272.95 328.90,272.97 326.85,272.97 326.15,272.96 326.19,272.95 326.37,272.96 326.08,273.00 325.29,273.06 324.40,273.13 323.46,273.22 322.53,273.36 321.68,273.58 320.94,273.83 320.25,274.12 319.59,274.47 318.91,274.93 318.16,275.53 317.87,275.69 318.06,275.36 317.96,275.45 316.79,276.86 313.76,280.49 307.76,287.70 299.29,297.91 290.05,309.05 281.75,319.06 276.10,325.89" fill="none" stroke="#f2959c" stroke-width="0.65" stroke-linejoin="round" stroke-linecap="round" opacity="0.95"/>
<polyline points="276.10,325.89 276.69,325.26 277.27,324.63 277.86,324.00 278.45,323.37 279.03,322.74 279.62,322.11 280.21,321.48 280.79,320.85 281.38,320.22 281.97,319.59 282.55,318.96 283.14,318.33 283.73,317.70 284.31,317.07 284.90,316.44 285.49,315.81 286.07,315.18 286.66,314.55 287.25,313.92 287.83,313.29 288.42,312.66 289.01,312.03 289.59,311.41 290.18,310.78 290.77,310.15 291.35,309.52 291.94,308.89 292.53,308.26 293.11,307.63 293.70,307.00 294.29,306.37 294.87,305.74 295.46,305.11 296.05,304.48 296.63,303.85 297.22,303.22 297.81,302.59 298.39,301.96 298.98,301.33 299.57,300.70 300.15,300.07 300.74,299.44 301.33,298.81 301.91,298.18 302.50,297.55 303.09,296.92 303.67,296.30 304.26,295.67 304.85,295.04 305.43,294.41 306.02,293.78 306.61,293.15 307.19,292.52 307.78,291.89 308.37,291.26 308.95,290.63 309.54,290.00 310.13,289.37 310.71,288.74 311.30,288.11 311.89,287.48 312.47,286.85 313.06,286.22 313.65,285.59 314.23,284.96 314.82,284.33 315.41,283.70 315.99,283.07 316.58,282.44 317.17,281.81 317.75,281.18 318.34,280.56 318.93,279.93 319.51,279.30 320.10,278.67 320.69,278.04 321.27,277.41 321.86,276.78 322.45,276.15 323.03,275.52 323.62,274.89 324.21,274.26 324.79,273.63 325.38,273.00 325.97,272.37 326.55,271.74 327.14,271.11 327.73,270.48 328.31,269.85 328.90,269.22 329.49,268.59 330.07,267.96 330.66,267.33 331.25,266.70 331.83,266.07 332.42,265.44 333.01,264.82 333.59,264.19 334.18,263.56 334.77,262.93 335.35,262.30 335.94,261.67 336.53,261.04 337.11,260.41 337.70,259.78 338.29,259.15 338.87,258.52 339.46,257.89 340.05,257.26 340.63,256.63 341.22,256.00 341.81,255.37 342.39,254.74 342.98,254.11 343.57,253.48 344.15,252.85 344.74,252.22 345.33,251.59 345.91,250.96 346.50,250.33 347.09,249.70 347.67,249.08 348.26,248.45 348.85,247.82 349.43,247.19 350.02,246.56 350.61,245.93 351.19,245.30 351.78,244.67 352.37,244.04 352.95,243.41 353.54,242.78 354.13,242.15 354.71,241.52 355.30,240.89 355.89,240.26 356.47,239.63 357.06,239.00 357.65,238.37 358.23,237.74 358.82,237.11 359.41,236.48 359.99,235.85 360.58,235.22 361.17,234.59 361.75,233.97 362.34,233.34 362.93,232.71 363.51,232.08 364.10,231.45 364.69,230.82 365.27,230.19 365.86,229.56 366.45,228.94 367.03,228.31 367.62,227.69 368.21,227.07 368.79,226.45 369.38,225.85 369.97,225.25 370.55,224.67 371.14,224.11 371.73,223.59 372.31,223.12 372.90,222.72 373.49,222.44 374.07,222.32 374.66,222.42 375.25,222.84 375.83,223.69 376.42,225.09 377.01,227.14 377.59,229.92 378.18,233.41 378.77,237.44 379.35,241.75 379.94,246.02 380.53,249.95 381.11,253.34 381.70,256.12 382.29,258.31 382.87,259.99 383.46,261.24 384.05,262.18 384.63,262.87 385.22,263.39 385.81,263.78 386.39,264.08 386.98,264.32 387.57,264.52 388.15,264.68 388.74,264.82 389.33,264.95 389.91,265.06 390.50,265.17 391.09,265.27 391.67,265.37 392.26,265.46 392.85,265.55 393.43,265.64 394.02,265.73 394.61,265.81 395.19,265.90 395.78,265.98 396.37,266.06 396.95,266.14 397.54,266.22 398.13,266.30 398.71,266.38 399.30,266.46 399.89,266.53 400.47,266.61 401.06,266.68 401.65,266.75 402.23,266.83 402.82,266.90 403.41,266.97 403.99,267.04 404.58,267.11 405.17,267.18 405.75,267.24 406.34,267.31 406.93,267.38 407.51,267.44 408.10,267.51 408.69,267.57 409.27,267.63 409.86,267.69 410.45,267.76 411.03,267.82 411.62,267.88 412.21,267.94 412.79,267.99 413.38,268.05 413.97,268.11 414.55,268.17 415.14,268.22 415.73,268.28 416.31,268.33 416.90,268.39" fill="none" stroke="#f07c85" stroke-width="2.0" stroke-linejoin="round" stroke-linecap="round" />
<polyline points="416.90,272.08 413.45,272.16 408.66,272.28 402.96,272.42 396.77,272.55 390.50,272.65 383.88,272.73 376.63,272.78 369.17,272.82 361.92,272.85 355.30,272.88 349.08,272.91 342.98,272.93 337.34,272.94 332.53,272.95 328.90,272.97 326.85,272.97 326.15,272.96 326.18,272.95 326.36,272.96 326.07,273.00 325.27,273.06 324.38,273.13 323.44,273.22 322.52,273.36 321.67,273.58 320.92,273.83 320.24,274.12 319.58,274.47 318.89,274.93 318.15,275.53 317.86,275.69 318.05,275.36 317.94,275.45 316.77,276.86 313.75,280.49 307.74,287.70 299.27,297.91 290.04,309.05 281.75,319.06 276.10,325.89" fill="none" stroke="#f2868e" stroke-width="1.2" stroke-linejoin="round" stroke-linecap="round" />
<polyline points="364.10,231.45 364.69,230.82 365.27,230.19 365.86,229.56 366.45,228.94 367.03,228.31 367.62,227.69 368.21,227.07 368.79,226.45 369.38,225.85 369.97,225.25 370.55,224.67 371.14,224.11 371.73,223.59 372.31,223.12 372.90,222.72 373.49,222.44 374.07,222.32 374.66,222.42 375.25,222.84 375.83,223.69 376.42,225.09 377.01,227.14 377.59,229.92 378.18,233.41 378.77,237.44 379.35,241.75 379.94,246.02 380.53,249.95 381.11,253.34 381.70,256.12 382.29,258.31 382.87,259.99 383.46,261.24 384.05,262.18 384.63,262.87 385.22,263.39 385.81,263.78 386.39,264.08 386.98,264.32 387.57,264.52 388.15,264.68 388.74,264.82 389.33,264.95 389.91,265.06 390.50,265.17 391.09,265.27 391.67,265.37 392.26,265.46 392.85,265.55 393.43,265.64 394.02,265.73 394.61,265.81 395.19,265.90 395.78,265.98 396.37,266.06 396.95,266.14 397.54,266.22 398.13,266.30 398.71,266.38 399.30,266.46 399.89,266.53 400.47,266.61 401.06,266.68 401.65,266.75 402.23,266.83 402.82,266.90 403.41,266.97 403.99,267.04 404.58,267.11 405.17,267.18 405.75,267.24 406.34,267.31 406.93,267.38 407.51,267.44 408.10,267.51 408.69,267.57 409.27,267.63 409.86,267.69 410.45,267.76 411.03,267.82 411.62,267.88 412.21,267.94 412.79,267.99 413.38,268.05 413.97,268.11 414.55,268.17 415.14,268.22 415.73,268.28 416.31,268.33 416.90,268.39" fill="none" stroke="#f4a4aa" stroke-width="1.0" stroke-linejoin="round" stroke-linecap="round" opacity="0.9"/>
<polyline points="364.10,231.45 364.69,230.82 365.27,230.19 365.86,229.56 366.45,228.93 367.03,228.31 367.62,227.68 368.21,227.06 368.79,226.44 369.38,225.83 369.97,225.22 370.55,224.63 371.14,224.06 371.73,223.51 372.31,223.00 372.90,222.55 373.49,222.19 374.07,221.95 374.66,221.89 375.25,222.09 375.83,222.64 376.42,223.65 377.01,225.24 377.59,227.51 378.18,230.50 378.77,234.13 379.35,238.21 379.94,242.45 380.53,246.53 381.11,250.19 381.70,253.29 382.29,255.79 382.87,257.74 383.46,259.22 384.05,260.33 384.63,261.16 385.22,261.78 385.81,262.25 386.39,262.62 386.98,262.91 387.57,263.14 388.15,263.33 388.74,263.50 389.33,263.65 389.91,263.78 390.50,263.91 391.09,264.03 391.67,264.14 392.26,264.25 392.85,264.35 393.43,264.46 394.02,264.56 394.61,264.66 395.19,264.75 395.78,264.85 396.37,264.95 396.95,265.04 397.54,265.13 398.13,265.22 398.71,265.31 399.30,265.40 399.89,265.49 400.47,265.58 401.06,265.66 401.65,265.75 402.23,265.83 402.82,265.92 403.41,266.00 403.99,266.08 404.58,266.16 405.17,266.24 405.75,266.32 406.34,266.39 406.93,266.47 407.51,266.55 408.10,266.62 408.69,266.70 409.27,266.77 409.86,266.84 410.45,266.91 411.03,266.98 411.62,267.05 412.21,267.12 412.79,267.19 413.38,267.26 413.97,267.32 414.55,267.39 415.14,267.45 415.73,267.52 416.31,267.58 416.90,267.64" fill="none" stroke="#f4a4aa" stroke-width="1.0" stroke-linejoin="round" stroke-linecap="round" opacity="0.9"/>
<polyline points="364.10,231.45 364.69,230.82 365.27,230.19 365.86,229.56 366.45,228.93 367.03,228.31 367.62,227.68 368.21,227.06 368.79,226.43 369.38,225.82 369.97,225.21 370.55,224.60 371.14,224.02 371.73,223.45 372.31,222.91 372.90,222.42 373.49,221.99 374.07,221.67 374.66,221.48 375.25,221.49 375.83,221.79 376.42,222.47 377.01,223.65 377.59,225.45 378.18,227.93 378.77,231.11 379.35,234.85 379.94,238.94 380.53,243.05 381.11,246.91 381.70,250.29 382.29,253.10 382.87,255.34 383.46,257.07 384.05,258.39 384.63,259.37 385.22,260.12 385.81,260.68 386.39,261.11 386.98,261.45 387.57,261.73 388.15,261.96 388.74,262.15 389.33,262.33 389.91,262.48 390.50,262.63 391.09,262.76 391.67,262.89 392.26,263.02 392.85,263.14 393.43,263.25 394.02,263.37 394.61,263.48 395.19,263.59 395.78,263.70 396.37,263.81 396.95,263.92 397.54,264.03 398.13,264.13 398.71,264.23 399.30,264.33 399.89,264.43 400.47,264.53 401.06,264.63 401.65,264.73 402.23,264.82 402.82,264.92 403.41,265.01 403.99,265.11 404.58,265.20 405.17,265.29 405.75,265.38 406.34,265.47 406.93,265.55 407.51,265.64 408.10,265.72 408.69,265.81 409.27,265.89 409.86,265.97 410.45,266.06 411.03,266.14 411.62,266.22 412.21,266.29 412.79,266.37 413.38,266.45 413.97,266.52 414.55,266.60 415.14,266.67 415.73,266.75 416.31,266.82 416.90,266.89" fill="none" stroke="#f4a4aa" stroke-width="1.0" stroke-linejoin="round" stroke-linecap="round" opacity="0.9"/>
<polyline points="364.10,231.45 364.69,230.82 365.27,230.19 365.86,229.56 366.45,228.93 367.03,228.30 367.62,227.68 368.21,227.05 368.79,226.43 369.38,225.81 369.97,225.19 370.55,224.58 371.14,223.98 371.73,223.40 372.31,222.84 372.90,222.32 373.49,221.84 374.07,221.44 374.66,221.16 375.25,221.03 375.83,221.12 376.42,221.53 377.01,222.36 377.59,223.72 378.18,225.72 378.77,228.40 379.35,231.73 379.94,235.55 380.53,239.59 381.11,243.54 381.70,247.15 382.29,250.26 382.87,252.79 383.46,254.79 384.05,256.33 384.63,257.49 385.22,258.38 385.81,259.04 386.39,259.56 386.98,259.96 387.57,260.29 388.15,260.55 388.74,260.78 389.33,260.98 389.91,261.16 390.50,261.32 391.09,261.48 391.67,261.63 392.26,261.77 392.85,261.90 393.43,262.04 394.02,262.17 394.61,262.29 395.19,262.42 395.78,262.54 396.37,262.66 396.95,262.79 397.54,262.90 398.13,263.02 398.71,263.14 399.30,263.25 399.89,263.36 400.47,263.48 401.06,263.59 401.65,263.70 402.23,263.80 402.82,263.91 403.41,264.02 403.99,264.12 404.58,264.22 405.17,264.32 405.75,264.42 406.34,264.52 406.93,264.62 407.51,264.72 408.10,264.82 408.69,264.91 409.27,265.00 409.86,265.10 410.45,265.19 411.03,265.28 411.62,265.37 412.21,265.46 412.79,265.54 413.38,265.63 413.97,265.72 414.55,265.80 415.14,265.88 415.73,265.97 416.31,266.05 416.90,266.13" fill="none" stroke="#f4a4aa" stroke-width="1.0" stroke-linejoin="round" stroke-linecap="round" opacity="0.9"/>
<polyline points="416.90,272.65 413.45,272.65 408.66,272.64 402.96,272.64 396.77,272.64 390.50,272.65 383.88,272.69 376.63,272.74 369.17,272.79 361.92,272.84 355.30,272.88 349.31,272.91 343.67,272.93 338.38,272.94 333.45,272.95 328.90,272.97 324.66,272.97 320.73,272.96 317.19,272.95 314.13,272.96 311.65,273.00 309.94,273.06 308.92,273.13 308.33,273.22 307.87,273.36 307.25,273.58 306.51,273.83 305.82,274.12 305.16,274.47 304.48,274.93 303.73,275.53 303.21,275.98 302.94,276.25 302.49,276.79 301.43,278.05 299.33,280.49 295.52,284.88 290.28,290.93 284.62,297.47 279.56,303.32 276.10,307.32" fill="none" stroke="#3a8cc6" stroke-width="1.9" stroke-linejoin="round" stroke-linecap="round" />
<polyline points="416.90,272.65 413.45,272.65 408.66,272.64 402.96,272.64 396.77,272.64 390.50,272.65 383.88,272.69 376.63,272.74 369.17,272.79 361.92,272.84 355.30,272.88 349.30,272.91 343.63,272.93 338.33,272.94 333.41,272.95 328.90,272.97 324.77,272.97 320.99,272.96 317.63,272.95 314.73,272.96 312.36,273.00 310.68,273.06 309.68,273.13 309.07,273.22 308.59,273.36 307.96,273.58 307.21,273.83 306.53,274.12 305.87,274.47 305.18,274.93 304.44,275.53 303.92,275.99 303.68,276.27 303.24,276.81 302.18,278.07 300.04,280.49 296.12,284.83 290.72,290.80 284.89,297.25 279.67,303.03 276.10,306.98" fill="none" stroke="#3a8cc6" stroke-width="1.9" stroke-linejoin="round" stroke-linecap="round" />
<polyline points="416.90,272.65 413.45,272.65 408.66,272.64 402.96,272.64 396.77,272.64 390.50,272.65 383.88,272.69 376.63,272.74 369.17,272.79 361.92,272.84 355.30,272.88 349.29,272.91 343.60,272.93 338.28,272.94 333.36,272.95 328.90,272.97 324.87,272.97 321.25,272.96 318.07,272.95 315.33,272.96 313.06,273.00 311.43,273.06 310.43,273.13 309.81,273.22 309.30,273.36 308.66,273.58 307.91,273.83 307.23,274.12 306.57,274.47 305.89,274.93 305.14,275.53 304.64,275.99 304.41,276.28 304.00,276.84 302.93,278.09 300.74,280.49 296.71,284.78 291.16,290.67 285.15,297.04 279.77,302.74 276.10,306.63" fill="none" stroke="#3a8cc6" stroke-width="1.9" stroke-linejoin="round" stroke-linecap="round" />
<polyline points="276.10,307.26 276.69,306.85 277.27,306.44 277.86,306.03 278.45,305.62 279.03,305.20 279.62,304.79 280.21,304.38 280.79,303.97 281.38,303.56 281.97,303.15 282.55,302.74 283.14,302.33 283.73,301.92 284.31,301.51 284.90,301.10 285.49,300.69 286.07,300.28 286.66,299.86 287.25,299.45 287.83,299.04 288.42,298.63 289.01,298.22 289.59,297.81 290.18,297.40 290.77,296.99 291.35,296.58 291.94,296.17 292.53,295.76 293.11,295.35 293.70,294.94 294.29,294.52 294.87,294.11 295.46,293.70 296.05,293.29 296.63,292.88 297.22,292.47 297.81,292.06 298.39,291.65 298.98,291.24 299.57,290.83 300.15,290.42 300.74,290.01 301.33,289.60 301.91,289.18 302.50,288.77 303.09,288.36 303.67,287.95 304.26,287.54 304.85,287.13 305.43,286.72 306.02,286.31 306.61,285.90 307.19,285.49 307.78,285.08 308.37,284.67 308.95,284.26 309.54,283.84 310.13,283.43 310.71,283.02 311.30,282.61 311.89,282.20 312.47,281.79 313.06,281.38 313.65,280.97 314.23,280.56 314.82,280.15 315.41,279.74 315.99,279.33 316.58,278.92 317.17,278.50 317.75,278.09 318.34,277.68 318.93,277.27 319.51,276.86 320.10,276.45 320.69,276.04 321.27,275.63 321.86,275.22 322.45,274.81 323.03,274.40 323.62,273.99 324.21,273.58 324.79,273.16 325.38,272.75 325.97,272.34 326.55,271.93 327.14,271.52 327.73,271.11 328.31,270.70 328.90,270.29 329.49,269.88 330.07,269.47 330.66,269.06 331.25,268.65 331.83,268.24 332.42,267.82 333.01,267.41 333.59,267.00 334.18,266.59 334.77,266.18 335.35,265.77 335.94,265.36 336.53,264.95 337.11,264.54 337.70,264.13 338.29,263.72 338.87,263.31 339.46,262.89 340.05,262.48 340.63,262.07 341.22,261.66 341.81,261.25 342.39,260.84 342.98,260.43 343.57,260.02 344.15,259.61 344.74,259.20 345.33,258.79 345.91,258.38 346.50,257.96 347.09,257.55 347.67,257.14 348.26,256.73 348.85,256.32 349.43,255.91 350.02,255.50 350.61,255.09 351.19,254.67 351.78,254.26 352.37,253.85 352.95,253.44 353.54,253.02 354.13,252.61 354.71,252.20 355.30,251.78 355.89,251.37 356.47,250.95 357.06,250.53 357.65,250.11 358.23,249.69 358.82,249.27 359.41,248.85 359.99,248.42 360.58,247.99 361.17,247.56 361.75,247.12 362.34,246.67 362.93,246.22 363.51,245.77 364.10,245.30 364.69,244.83 365.27,244.35 365.86,243.85 366.45,243.35 367.03,242.83 367.62,242.30 368.21,241.76 368.79,241.21 369.38,240.67 369.97,240.13 370.55,239.62 371.14,239.16 371.73,238.78 372.31,238.54 372.90,238.47 373.49,238.65 374.07,239.14 374.66,240.01 375.25,241.28 375.83,242.95 376.42,244.96 377.01,247.22 377.59,249.61 378.18,252.00 378.77,254.29 379.35,256.39 379.94,258.28 380.53,259.93 381.11,261.36 381.70,262.58 382.29,263.61 382.87,264.48 383.46,265.21 384.05,265.84 384.63,266.36 385.22,266.81 385.81,267.19 386.39,267.51 386.98,267.79 387.57,268.03 388.15,268.24 388.74,268.41 389.33,268.57 389.91,268.70 390.50,268.82 391.09,268.92 391.67,269.01 392.26,269.09 392.85,269.15 393.43,269.21 394.02,269.26 394.61,269.31 395.19,269.35 395.78,269.38 396.37,269.41 396.95,269.44 397.54,269.47 398.13,269.49 398.71,269.50 399.30,269.52 399.89,269.53 400.47,269.55 401.06,269.56 401.65,269.57 402.23,269.58 402.82,269.58 403.41,269.59 403.99,269.60 404.58,269.60 405.17,269.60 405.75,269.61 406.34,269.61 406.93,269.62 407.51,269.62 408.10,269.62 408.69,269.62 409.27,269.62 409.86,269.63 410.45,269.63 411.03,269.63 411.62,269.63 412.21,269.63 412.79,269.63 413.38,269.63 413.97,269.63 414.55,269.63 415.14,269.63 415.73,269.63 416.31,269.63 416.90,269.63" fill="none" stroke="#3a8cc6" stroke-width="1.9" stroke-linejoin="round" stroke-linecap="round" />
<polyline points="276.10,306.68 276.69,306.28 277.27,305.87 277.86,305.47 278.45,305.07 279.03,304.66 279.62,304.26 280.21,303.86 280.79,303.45 281.38,303.05 281.97,302.64 282.55,302.24 283.14,301.84 283.73,301.43 284.31,301.03 284.90,300.62 285.49,300.22 286.07,299.82 286.66,299.41 287.25,299.01 287.83,298.60 288.42,298.20 289.01,297.80 289.59,297.39 290.18,296.99 290.77,296.59 291.35,296.18 291.94,295.78 292.53,295.37 293.11,294.97 293.70,294.57 294.29,294.16 294.87,293.76 295.46,293.35 296.05,292.95 296.63,292.55 297.22,292.14 297.81,291.74 298.39,291.34 298.98,290.93 299.57,290.53 300.15,290.12 300.74,289.72 301.33,289.32 301.91,288.91 302.50,288.51 303.09,288.10 303.67,287.70 304.26,287.30 304.85,286.89 305.43,286.49 306.02,286.09 306.61,285.68 307.19,285.28 307.78,284.87 308.37,284.47 308.95,284.07 309.54,283.66 310.13,283.26 310.71,282.85 311.30,282.45 311.89,282.05 312.47,281.64 313.06,281.24 313.65,280.83 314.23,280.43 314.82,280.03 315.41,279.62 315.99,279.22 316.58,278.82 317.17,278.41 317.75,278.01 318.34,277.60 318.93,277.20 319.51,276.80 320.10,276.39 320.69,275.99 321.27,275.58 321.86,275.18 322.45,274.78 323.03,274.37 323.62,273.97 324.21,273.57 324.79,273.16 325.38,272.76 325.97,272.35 326.55,271.95 327.14,271.55 327.73,271.14 328.31,270.74 328.90,270.33 329.49,269.93 330.07,269.53 330.66,269.12 331.25,268.72 331.83,268.32 332.42,267.91 333.01,267.51 333.59,267.10 334.18,266.70 334.77,266.30 335.35,265.89 335.94,265.49 336.53,265.08 337.11,264.68 337.70,264.28 338.29,263.87 338.87,263.47 339.46,263.06 340.05,262.66 340.63,262.26 341.22,261.85 341.81,261.45 342.39,261.05 342.98,260.64 343.57,260.24 344.15,259.83 344.74,259.43 345.33,259.03 345.91,258.62 346.50,258.22 347.09,257.81 347.67,257.41 348.26,257.00 348.85,256.60 349.43,256.20 350.02,255.79 350.61,255.39 351.19,254.98 351.78,254.58 352.37,254.17 352.95,253.77 353.54,253.36 354.13,252.96 354.71,252.55 355.30,252.14 355.89,251.73 356.47,251.33 357.06,250.92 357.65,250.51 358.23,250.09 358.82,249.68 359.41,249.26 359.99,248.85 360.58,248.43 361.17,248.00 361.75,247.58 362.34,247.14 362.93,246.71 363.51,246.26 364.10,245.81 364.69,245.35 365.27,244.89 365.86,244.41 366.45,243.92 367.03,243.42 367.62,242.91 368.21,242.38 368.79,241.85 369.38,241.31 369.97,240.77 370.55,240.24 371.14,239.74 371.73,239.29 372.31,238.92 372.90,238.69 373.49,238.65 374.07,238.85 374.66,239.38 375.25,240.27 375.83,241.57 376.42,243.26 377.01,245.29 377.59,247.56 378.18,249.93 378.77,252.30 379.35,254.56 379.94,256.64 380.53,258.49 381.11,260.11 381.70,261.51 382.29,262.70 382.87,263.71 383.46,264.57 384.05,265.29 384.63,265.90 385.22,266.41 385.81,266.85 386.39,267.23 386.98,267.54 387.57,267.82 388.15,268.05 388.74,268.26 389.33,268.43 389.91,268.58 390.50,268.71 391.09,268.83 391.67,268.93 392.26,269.02 392.85,269.09 393.43,269.16 394.02,269.22 394.61,269.27 395.19,269.31 395.78,269.35 396.37,269.39 396.95,269.42 397.54,269.44 398.13,269.47 398.71,269.49 399.30,269.51 399.89,269.52 400.47,269.54 401.06,269.55 401.65,269.56 402.23,269.57 402.82,269.58 403.41,269.58 403.99,269.59 404.58,269.60 405.17,269.60 405.75,269.61 406.34,269.61 406.93,269.61 407.51,269.62 408.10,269.62 408.69,269.62 409.27,269.62 409.86,269.62 410.45,269.63 411.03,269.63 411.62,269.63 412.21,269.63 412.79,269.63 413.38,269.63 413.97,269.63 414.55,269.63 415.14,269.63 415.73,269.63 416.31,269.63 416.90,269.63" fill="none" stroke="#3a8cc6" stroke-width="1.9" stroke-linejoin="round" stroke-linecap="round" />
<polyline points="276.10,306.11 276.69,305.71 277.27,305.31 277.86,304.91 278.45,304.52 279.03,304.12 279.62,303.72 280.21,303.33 280.79,302.93 281.38,302.53 281.97,302.14 282.55,301.74 283.14,301.34 283.73,300.95 284.31,300.55 284.90,300.15 285.49,299.75 286.07,299.36 286.66,298.96 287.25,298.56 287.83,298.17 288.42,297.77 289.01,297.37 289.59,296.98 290.18,296.58 290.77,296.18 291.35,295.79 291.94,295.39 292.53,294.99 293.11,294.59 293.70,294.20 294.29,293.80 294.87,293.40 295.46,293.01 296.05,292.61 296.63,292.21 297.22,291.82 297.81,291.42 298.39,291.02 298.98,290.62 299.57,290.23 300.15,289.83 300.74,289.43 301.33,289.04 301.91,288.64 302.50,288.24 303.09,287.85 303.67,287.45 304.26,287.05 304.85,286.66 305.43,286.26 306.02,285.86 306.61,285.46 307.19,285.07 307.78,284.67 308.37,284.27 308.95,283.88 309.54,283.48 310.13,283.08 310.71,282.69 311.30,282.29 311.89,281.89 312.47,281.49 313.06,281.10 313.65,280.70 314.23,280.30 314.82,279.91 315.41,279.51 315.99,279.11 316.58,278.72 317.17,278.32 317.75,277.92 318.34,277.53 318.93,277.13 319.51,276.73 320.10,276.33 320.69,275.94 321.27,275.54 321.86,275.14 322.45,274.75 323.03,274.35 323.62,273.95 324.21,273.56 324.79,273.16 325.38,272.76 325.97,272.36 326.55,271.97 327.14,271.57 327.73,271.17 328.31,270.78 328.90,270.38 329.49,269.98 330.07,269.59 330.66,269.19 331.25,268.79 331.83,268.40 332.42,268.00 333.01,267.60 333.59,267.20 334.18,266.81 334.77,266.41 335.35,266.01 335.94,265.62 336.53,265.22 337.11,264.82 337.70,264.43 338.29,264.03 338.87,263.63 339.46,263.23 340.05,262.84 340.63,262.44 341.22,262.04 341.81,261.65 342.39,261.25 342.98,260.85 343.57,260.46 344.15,260.06 344.74,259.66 345.33,259.26 345.91,258.87 346.50,258.47 347.09,258.07 347.67,257.68 348.26,257.28 348.85,256.88 349.43,256.48 350.02,256.09 350.61,255.69 351.19,255.29 351.78,254.89 352.37,254.50 352.95,254.10 353.54,253.70 354.13,253.30 354.71,252.90 355.30,252.50 355.89,252.10 356.47,251.70 357.06,251.30 357.65,250.90 358.23,250.49 358.82,250.09 359.41,249.68 359.99,249.27 360.58,248.86 361.17,248.45 361.75,248.03 362.34,247.61 362.93,247.18 363.51,246.75 364.10,246.32 364.69,245.87 365.27,245.42 365.86,244.96 366.45,244.49 367.03,244.00 367.62,243.51 368.21,243.00 368.79,242.48 369.38,241.95 369.97,241.42 370.55,240.88 371.14,240.36 371.73,239.87 372.31,239.43 372.90,239.08 373.49,238.86 374.07,238.84 374.66,239.07 375.25,239.62 375.83,240.55 376.42,241.88 377.01,243.59 377.59,245.63 378.18,247.89 378.77,250.26 379.35,252.60 379.94,254.83 380.53,256.88 381.11,258.70 381.70,260.29 382.29,261.66 382.87,262.83 383.46,263.82 384.05,264.65 384.63,265.36 385.22,265.96 385.81,266.46 386.39,266.90 386.98,267.26 387.57,267.58 388.15,267.84 388.74,268.08 389.33,268.28 389.91,268.45 390.50,268.60 391.09,268.73 391.67,268.84 392.26,268.94 392.85,269.02 393.43,269.10 394.02,269.17 394.61,269.22 395.19,269.27 395.78,269.32 396.37,269.36 396.95,269.39 397.54,269.42 398.13,269.45 398.71,269.47 399.30,269.49 399.89,269.51 400.47,269.52 401.06,269.54 401.65,269.55 402.23,269.56 402.82,269.57 403.41,269.58 403.99,269.58 404.58,269.59 405.17,269.60 405.75,269.60 406.34,269.61 406.93,269.61 407.51,269.61 408.10,269.62 408.69,269.62 409.27,269.62 409.86,269.62 410.45,269.62 411.03,269.63 411.62,269.63 412.21,269.63 412.79,269.63 413.38,269.63 413.97,269.63 414.55,269.63 415.14,269.63 415.73,269.63 416.31,269.63 416.90,269.63" fill="none" stroke="#3a8cc6" stroke-width="1.9" stroke-linejoin="round" stroke-linecap="round" />
<line x1="367.40" y1="258.50" x2="392.60" y2="238.30" stroke="#e05560" stroke-width="0.9" />
<polygon points="392.60,238.30 388.55,239.01 391.03,242.10" fill="#e05560"/>
<line x1="270.80" y1="304.80" x2="270.80" y2="310.40" stroke="#e05560" stroke-width="0.8" />
<polygon points="270.80,310.40 272.45,307.40 269.15,307.40" fill="#e05560"/>
<line x1="270.80" y1="317.60" x2="270.80" y2="326.10" stroke="#f0a0a6" stroke-width="0.8" />
<polygon points="270.80,326.10 272.45,323.10 269.15,323.10" fill="#f0a0a6"/>
<polygon points="270.8,326.1 269.1,322.8 272.5,322.8" fill="#e05560"/>
<line x1="253.50" y1="204.50" x2="253.50" y2="344.80" stroke="#3a3a3a" stroke-width="1" />
<line x1="251.10" y1="342.50" x2="429.50" y2="342.50" stroke="#3a3a3a" stroke-width="1" />
<line x1="253.50" y1="204.50" x2="429.50" y2="204.50" stroke="#505050" stroke-width="1" />
<line x1="429.50" y1="204.50" x2="429.50" y2="344.80" stroke="#505050" stroke-width="1" />
<line x1="251.10" y1="203.90" x2="253.50" y2="203.90" stroke="#3a3a3a" stroke-width="1" />
<text x="-0.44" y="0" font-size="8.7" fill="#111" textLength="9.88" lengthAdjust="spacingAndGlyphs" transform="translate(241.20,206.99) rotate(0)"  stroke="#111" stroke-width="0.22">60</text>
<line x1="251.10" y1="226.93" x2="253.50" y2="226.93" stroke="#3a3a3a" stroke-width="1" />
<text x="-0.17" y="0" font-size="8.7" fill="#111" textLength="9.59" lengthAdjust="spacingAndGlyphs" transform="translate(241.20,230.02) rotate(0)"  stroke="#111" stroke-width="0.22">40</text>
<line x1="251.10" y1="249.97" x2="253.50" y2="249.97" stroke="#3a3a3a" stroke-width="1" />
<text x="-0.44" y="0" font-size="8.7" fill="#111" textLength="9.88" lengthAdjust="spacingAndGlyphs" transform="translate(241.20,253.06) rotate(0)"  stroke="#111" stroke-width="0.22">20</text>
<line x1="251.10" y1="273.00" x2="253.50" y2="273.00" stroke="#3a3a3a" stroke-width="1" />
<text x="-0.35" y="0" font-size="8.7" fill="#111" textLength="4.87" lengthAdjust="spacingAndGlyphs" transform="translate(246.10,276.09) rotate(0)"  stroke="#111" stroke-width="0.22">0</text>
<line x1="251.10" y1="296.03" x2="253.50" y2="296.03" stroke="#3a3a3a" stroke-width="1" />
<text x="-0.40" y="0" font-size="8.7" fill="#111" textLength="12.81" lengthAdjust="spacingAndGlyphs" transform="translate(238.20,299.12) rotate(0)"  stroke="#111" stroke-width="0.22">-20</text>
<line x1="251.10" y1="319.07" x2="253.50" y2="319.07" stroke="#3a3a3a" stroke-width="1" />
<text x="-0.40" y="0" font-size="8.7" fill="#111" textLength="12.81" lengthAdjust="spacingAndGlyphs" transform="translate(238.20,322.16) rotate(0)"  stroke="#111" stroke-width="0.22">-40</text>
<line x1="251.10" y1="342.10" x2="253.50" y2="342.10" stroke="#3a3a3a" stroke-width="1" />
<text x="-0.40" y="0" font-size="8.7" fill="#111" textLength="12.81" lengthAdjust="spacingAndGlyphs" transform="translate(238.20,345.19) rotate(0)"  stroke="#111" stroke-width="0.22">-60</text>
<line x1="252.10" y1="215.42" x2="253.50" y2="215.42" stroke="#3a3a3a" stroke-width="0.8" />
<line x1="252.10" y1="238.45" x2="253.50" y2="238.45" stroke="#3a3a3a" stroke-width="0.8" />
<line x1="252.10" y1="261.48" x2="253.50" y2="261.48" stroke="#3a3a3a" stroke-width="0.8" />
<line x1="252.10" y1="284.52" x2="253.50" y2="284.52" stroke="#3a3a3a" stroke-width="0.8" />
<line x1="252.10" y1="307.55" x2="253.50" y2="307.55" stroke="#3a3a3a" stroke-width="0.8" />
<line x1="252.10" y1="330.58" x2="253.50" y2="330.58" stroke="#3a3a3a" stroke-width="0.8" />
<line x1="276.10" y1="342.50" x2="276.10" y2="344.80" stroke="#3a3a3a" stroke-width="1" />
<text x="-0.39" y="0" font-size="8.7" fill="#111" textLength="19.52" lengthAdjust="spacingAndGlyphs" transform="translate(266.70,353.79) rotate(0)"  stroke="#111" stroke-width="0.22">-1.25</text>
<line x1="320.10" y1="342.50" x2="320.10" y2="344.80" stroke="#3a3a3a" stroke-width="1" />
<text x="-0.38" y="0" font-size="8.7" fill="#111" textLength="19.48" lengthAdjust="spacingAndGlyphs" transform="translate(310.70,353.79) rotate(0)"  stroke="#111" stroke-width="0.22">-1.00</text>
<line x1="364.10" y1="342.50" x2="364.10" y2="344.80" stroke="#3a3a3a" stroke-width="1" />
<text x="-0.39" y="0" font-size="8.7" fill="#111" textLength="19.52" lengthAdjust="spacingAndGlyphs" transform="translate(354.70,353.79) rotate(0)"  stroke="#111" stroke-width="0.22">-0.75</text>
<line x1="408.10" y1="342.50" x2="408.10" y2="344.80" stroke="#3a3a3a" stroke-width="1" />
<text x="-0.38" y="0" font-size="8.7" fill="#111" textLength="19.48" lengthAdjust="spacingAndGlyphs" transform="translate(398.70,353.79) rotate(0)"  stroke="#111" stroke-width="0.22">-0.50</text>
<line x1="298.10" y1="342.50" x2="298.10" y2="343.90" stroke="#3a3a3a" stroke-width="0.8" />
<line x1="342.10" y1="342.50" x2="342.10" y2="343.90" stroke="#3a3a3a" stroke-width="0.8" />
<line x1="386.10" y1="342.50" x2="386.10" y2="343.90" stroke="#3a3a3a" stroke-width="0.8" />
<text x="-0.72" y="0" font-size="9.2" fill="#111" textLength="98.50" lengthAdjust="spacingAndGlyphs" transform="translate(293.10,368.07) rotate(0)"  stroke="#111" stroke-width="0.22">Potential (V vs. Ag/AgCl)</text>
<text x="-0.45" y="0" font-size="9.2" fill="#111" textLength="51.82" lengthAdjust="spacingAndGlyphs" transform="translate(230.57,295.70) rotate(-90)" stroke="#111" stroke-width="0.22">Current (mA)</text>
<text x="-0.58" y="0" font-size="8.2" fill="#111" textLength="23.86" lengthAdjust="spacingAndGlyphs" transform="translate(400.50,214.76) rotate(0)"  stroke="#111" stroke-width="0.22">1 mV s</text>
<text x="424.70" y="212.00" font-size="4.6" fill="#111" stroke="#111" stroke-width="0.22">-1</text>
<line x1="393.00" y1="322.70" x2="405.30" y2="322.70" stroke="#f8c4c8" stroke-width="1.8" />
<text x="-0.53" y="0" font-size="8.8" fill="#e8707a" textLength="12.93" lengthAdjust="spacingAndGlyphs" transform="translate(414.10,326.26) rotate(0)"  stroke="#e8707a" stroke-width="0.22">BZS</text>
<line x1="393.00" y1="334.10" x2="405.30" y2="334.10" stroke="#9fc3e0" stroke-width="1.8" />
<text x="-0.53" y="0" font-size="8.8" fill="#3a8cc6" textLength="12.93" lengthAdjust="spacingAndGlyphs" transform="translate(414.10,337.56) rotate(0)"  stroke="#3a8cc6" stroke-width="0.22">PZS</text>
<text x="-0.38" y="0" font-size="9.6" fill="#000" textLength="5.33" lengthAdjust="spacingAndGlyphs" font-weight="bold" transform="translate(227.25,199.98) rotate(0)"  stroke="#000" stroke-width="0.0">e</text>
<g>
<line x1="501.70" y1="198.80" x2="505.41" y2="311.45" stroke="#dedede" stroke-width="0.6" />
<line x1="535.55" y1="195.70" x2="537.48" y2="305.53" stroke="#dedede" stroke-width="0.6" />
<line x1="566.25" y1="192.90" x2="566.55" y2="300.17" stroke="#dedede" stroke-width="0.6" />
<line x1="483.66" y1="214.20" x2="581.44" y2="204.22" stroke="#dedede" stroke-width="0.6" />
<line x1="581.44" y1="204.22" x2="660.69" y2="218.66" stroke="#dedede" stroke-width="0.6" />
<line x1="484.64" y1="237.96" x2="581.34" y2="226.27" stroke="#dedede" stroke-width="0.6" />
<line x1="581.34" y1="226.27" x2="659.46" y2="243.37" stroke="#dedede" stroke-width="0.6" />
<line x1="485.61" y1="261.48" x2="581.23" y2="248.10" stroke="#dedede" stroke-width="0.6" />
<line x1="581.23" y1="248.10" x2="658.25" y2="267.84" stroke="#dedede" stroke-width="0.6" />
<line x1="486.58" y1="285.01" x2="581.13" y2="269.94" stroke="#dedede" stroke-width="0.6" />
<line x1="581.13" y1="269.94" x2="657.03" y2="292.31" stroke="#dedede" stroke-width="0.6" />
<line x1="487.55" y1="308.53" x2="581.03" y2="291.78" stroke="#dedede" stroke-width="0.6" />
<line x1="581.03" y1="291.78" x2="655.82" y2="316.78" stroke="#dedede" stroke-width="0.6" />
<line x1="608.91" y1="195.92" x2="606.55" y2="306.32" stroke="#dedede" stroke-width="0.6" />
<line x1="633.12" y1="199.83" x2="629.13" y2="314.10" stroke="#dedede" stroke-width="0.6" />
<line x1="578.74" y1="347.01" x2="505.41" y2="311.45" stroke="#dedede" stroke-width="0.6" />
<line x1="614.25" y1="335.99" x2="537.48" y2="305.53" stroke="#dedede" stroke-width="0.6" />
<line x1="646.04" y1="326.13" x2="566.55" y2="300.17" stroke="#dedede" stroke-width="0.6" />
<line x1="504.11" y1="324.35" x2="606.55" y2="306.32" stroke="#dedede" stroke-width="0.6" />
<line x1="526.05" y1="337.33" x2="629.13" y2="314.10" stroke="#dedede" stroke-width="0.6" />
<line x1="483.10" y1="200.50" x2="581.50" y2="191.50" stroke="#9a9a9a" stroke-width="0.8" />
<line x1="581.50" y1="191.50" x2="661.40" y2="204.40" stroke="#9a9a9a" stroke-width="0.8" />
<line x1="661.40" y1="204.40" x2="655.50" y2="323.20" stroke="#9a9a9a" stroke-width="0.8" />
<line x1="581.50" y1="191.50" x2="581.00" y2="297.50" stroke="#aaaaaa" stroke-width="0.7" />
<line x1="487.80" y1="314.70" x2="581.00" y2="297.50" stroke="#b8b8b8" stroke-width="0.7" />
<line x1="581.00" y1="297.50" x2="655.50" y2="323.20" stroke="#b8b8b8" stroke-width="0.7" />
<line x1="483.10" y1="200.50" x2="487.80" y2="314.70" stroke="#444" stroke-width="0.9" />
<line x1="487.80" y1="314.70" x2="554.90" y2="354.40" stroke="#333" stroke-width="0.9" />
<line x1="554.90" y1="354.40" x2="655.50" y2="323.20" stroke="#333" stroke-width="0.9" />
</g>
<line x1="481.66" y1="214.20" x2="483.66" y2="214.20" stroke="#444" stroke-width="0.7" />
<text x="-0.31" y="0" font-size="6.4" fill="#333" textLength="15.65" lengthAdjust="spacingAndGlyphs" transform="translate(464.96,218.58) rotate(0)"  stroke="#333" stroke-width="0.22">-1.02</text>
<line x1="482.64" y1="237.96" x2="484.64" y2="237.96" stroke="#444" stroke-width="0.7" />
<text x="-0.31" y="0" font-size="6.4" fill="#333" textLength="15.51" lengthAdjust="spacingAndGlyphs" transform="translate(465.94,242.78) rotate(0)"  stroke="#333" stroke-width="0.22">-1.04</text>
<line x1="483.61" y1="261.48" x2="485.61" y2="261.48" stroke="#444" stroke-width="0.7" />
<text x="-0.31" y="0" font-size="6.4" fill="#333" textLength="15.58" lengthAdjust="spacingAndGlyphs" transform="translate(466.91,265.08) rotate(0)"  stroke="#333" stroke-width="0.22">-1.05</text>
<line x1="484.58" y1="285.01" x2="486.58" y2="285.01" stroke="#444" stroke-width="0.7" />
<text x="-0.31" y="0" font-size="6.4" fill="#333" textLength="15.65" lengthAdjust="spacingAndGlyphs" transform="translate(467.88,288.28) rotate(0)"  stroke="#333" stroke-width="0.22">-1.07</text>
<line x1="485.55" y1="308.53" x2="487.55" y2="308.53" stroke="#444" stroke-width="0.7" />
<text x="-0.31" y="0" font-size="6.4" fill="#333" textLength="15.58" lengthAdjust="spacingAndGlyphs" transform="translate(468.85,310.68) rotate(0)"  stroke="#333" stroke-width="0.22">-1.08</text>
<text x="-0.72" y="0" font-size="9.2" fill="#222" textLength="89.11" lengthAdjust="spacingAndGlyphs" transform="translate(455.08,216.1) rotate(90)" stroke="#222" stroke-width="0.22">Knee point voltage (V)</text>
<text x="0" y="0" font-size="4.4" fill="#444" text-anchor="middle" transform="translate(483.5,320.5) rotate(31) skewX(-30)" stroke="#444" stroke-width="0.22">12.0</text>
<text x="0" y="0" font-size="4.4" fill="#444" text-anchor="middle" transform="translate(502.2,331.5) rotate(31) skewX(-30)" stroke="#444" stroke-width="0.22">10.0</text>
<text x="0" y="0" font-size="4.4" fill="#444" text-anchor="middle" transform="translate(524.1,344.5) rotate(31) skewX(-30)" stroke="#444" stroke-width="0.22">8.0</text>
<text x="0" y="0" font-size="4.4" fill="#444" text-anchor="middle" transform="translate(548.5,357.8) rotate(31) skewX(-30)" stroke="#444" stroke-width="0.22">6.0</text>
<text x="0" y="0" font-size="4.4" fill="#444" text-anchor="middle" transform="translate(580,351.5) rotate(-75) skewX(20)" stroke="#444" stroke-width="0.22">4.0</text>
<text x="0" y="0" font-size="4.4" fill="#444" text-anchor="middle" transform="translate(615.7,340.6) rotate(-75) skewX(20)" stroke="#444" stroke-width="0.22">5.0</text>
<text x="0" y="0" font-size="4.4" fill="#444" text-anchor="middle" transform="translate(647.3,330.2) rotate(-75) skewX(20)" stroke="#444" stroke-width="0.22">6.0</text>
<text x="0" y="0" font-size="7.8" fill="#222" textLength="94" lengthAdjust="spacingAndGlyphs" transform="translate(456.8,319.6) rotate(31) skewX(-30) scale(1,0.95)" stroke="#222" stroke-width="0.22">Electric charge of stripping (mC)</text>
<text x="0" y="0" font-size="8.8" fill="#333" textLength="124" lengthAdjust="spacingAndGlyphs" transform="translate(562.5,367.5) rotate(-17.8) skewX(-28) scale(1,0.85)" stroke="#333" stroke-width="0.22">Electric charge of plating (mC)</text>
<circle cx="503.56" cy="251.80" r="0.85" fill="#3a8cc6"/>
<circle cx="503.42" cy="252.30" r="0.85" fill="#3a8cc6"/>
<circle cx="503.82" cy="252.80" r="0.85" fill="#3a8cc6"/>
<circle cx="503.36" cy="253.30" r="0.85" fill="#3a8cc6"/>
<circle cx="503.73" cy="253.80" r="0.85" fill="#3a8cc6"/>
<circle cx="503.59" cy="254.30" r="0.85" fill="#3a8cc6"/>
<circle cx="503.35" cy="254.80" r="0.85" fill="#3a8cc6"/>
<circle cx="503.71" cy="255.30" r="0.85" fill="#3a8cc6"/>
<circle cx="503.33" cy="255.80" r="0.85" fill="#3a8cc6"/>
<circle cx="503.65" cy="256.30" r="0.85" fill="#3a8cc6"/>
<circle cx="503.36" cy="256.80" r="0.85" fill="#3a8cc6"/>
<circle cx="503.37" cy="257.30" r="0.85" fill="#3a8cc6"/>
<circle cx="503.64" cy="257.80" r="0.85" fill="#3a8cc6"/>
<circle cx="503.96" cy="258.30" r="0.85" fill="#3a8cc6"/>
<circle cx="503.40" cy="258.80" r="0.85" fill="#3a8cc6"/>
<circle cx="503.48" cy="259.30" r="0.85" fill="#3a8cc6"/>
<circle cx="503.80" cy="259.80" r="0.85" fill="#3a8cc6"/>
<circle cx="504.06" cy="260.30" r="0.85" fill="#3a8cc6"/>
<circle cx="503.76" cy="260.80" r="0.85" fill="#3a8cc6"/>
<circle cx="503.62" cy="261.30" r="0.85" fill="#3a8cc6"/>
<circle cx="504.08" cy="261.80" r="0.85" fill="#3a8cc6"/>
<circle cx="503.34" cy="262.30" r="0.85" fill="#3a8cc6"/>
<circle cx="503.99" cy="262.80" r="0.85" fill="#3a8cc6"/>
<circle cx="503.53" cy="263.30" r="0.85" fill="#3a8cc6"/>
<circle cx="503.42" cy="263.80" r="0.85" fill="#3a8cc6"/>
<circle cx="503.39" cy="264.30" r="0.85" fill="#3a8cc6"/>
<circle cx="505.62" cy="272.01" r="0.8" fill="#3a8cc6"/>
<circle cx="505.03" cy="269.85" r="0.8" fill="#3a8cc6"/>
<circle cx="507.14" cy="267.93" r="0.8" fill="#3a8cc6"/>
<circle cx="506.72" cy="265.08" r="0.8" fill="#3a8cc6"/>
<circle cx="504.47" cy="266.39" r="0.8" fill="#3a8cc6"/>
<circle cx="507.33" cy="268.43" r="0.8" fill="#3a8cc6"/>
<circle cx="505.65" cy="269.89" r="0.8" fill="#3a8cc6"/>
<circle cx="506.28" cy="267.26" r="0.8" fill="#3a8cc6"/>
<circle cx="507.85" cy="270.93" r="0.8" fill="#3a8cc6"/>
<circle cx="505.32" cy="269.78" r="0.8" fill="#3a8cc6"/>
<circle cx="506.62" cy="272.55" r="0.8" fill="#3a8cc6"/>
<circle cx="507.56" cy="267.15" r="0.8" fill="#3a8cc6"/>
<circle cx="508.71" cy="265.59" r="0.8" fill="#3a8cc6"/>
<circle cx="506.12" cy="271.47" r="0.8" fill="#3a8cc6"/>
<circle cx="504.90" cy="269.00" r="0.8" fill="#3a8cc6"/>
<circle cx="504.38" cy="270.65" r="0.8" fill="#3a8cc6"/>
<circle cx="507.72" cy="269.77" r="0.8" fill="#3a8cc6"/>
<circle cx="508.23" cy="267.39" r="0.8" fill="#3a8cc6"/>
<circle cx="507.40" cy="269.97" r="0.8" fill="#3a8cc6"/>
<circle cx="506.87" cy="268.70" r="0.8" fill="#3a8cc6"/>
<circle cx="508.06" cy="273.19" r="0.8" fill="#3a8cc6"/>
<circle cx="506.38" cy="270.61" r="0.8" fill="#3a8cc6"/>
<circle cx="504.48" cy="270.95" r="0.8" fill="#3a8cc6"/>
<circle cx="507.18" cy="273.64" r="0.8" fill="#3a8cc6"/>
<circle cx="507.98" cy="267.12" r="0.8" fill="#3a8cc6"/>
<circle cx="505.97" cy="270.65" r="0.8" fill="#3a8cc6"/>
<circle cx="504.30" cy="268.75" r="0.8" fill="#3a8cc6"/>
<circle cx="504.97" cy="265.58" r="0.8" fill="#3a8cc6"/>
<circle cx="504.47" cy="271.57" r="0.8" fill="#3a8cc6"/>
<circle cx="504.79" cy="266.78" r="0.8" fill="#3a8cc6"/>
<circle cx="506.00" cy="272.52" r="0.8" fill="#3a8cc6"/>
<circle cx="504.57" cy="268.63" r="0.8" fill="#3a8cc6"/>
<circle cx="506.73" cy="272.63" r="0.8" fill="#3a8cc6"/>
<circle cx="507.97" cy="272.45" r="0.8" fill="#3a8cc6"/>
<circle cx="505.48" cy="268.32" r="0.8" fill="#3a8cc6"/>
<circle cx="505.85" cy="272.63" r="0.8" fill="#3a8cc6"/>
<circle cx="508.61" cy="265.89" r="0.8" fill="#3a8cc6"/>
<circle cx="505.01" cy="266.63" r="0.8" fill="#3a8cc6"/>
<circle cx="505.27" cy="268.96" r="0.8" fill="#3a8cc6"/>
<circle cx="506.91" cy="266.92" r="0.8" fill="#3a8cc6"/>
<circle cx="507.8" cy="264.6" r="0.8" fill="#3a8cc6"/>
<circle cx="504.7" cy="280.3" r="0.85" fill="#3a8cc6"/>
<circle cx="505.5" cy="287.9" r="0.85" fill="#3a8cc6"/>
<circle cx="502.0" cy="291.1" r="0.85" fill="#3a8cc6"/>
<circle cx="570.41" cy="341.95" r="0.8" fill="#3a8cc6"/>
<circle cx="564.84" cy="343.48" r="0.8" fill="#3a8cc6"/>
<circle cx="571.12" cy="341.46" r="0.8" fill="#3a8cc6"/>
<circle cx="563.55" cy="342.63" r="0.8" fill="#3a8cc6"/>
<circle cx="566.80" cy="342.03" r="0.8" fill="#3a8cc6"/>
<circle cx="570.72" cy="341.06" r="0.8" fill="#3a8cc6"/>
<circle cx="570.32" cy="340.92" r="0.8" fill="#3a8cc6"/>
<circle cx="564.94" cy="343.22" r="0.8" fill="#3a8cc6"/>
<circle cx="570.34" cy="342.71" r="0.8" fill="#3a8cc6"/>
<circle cx="568.45" cy="342.32" r="0.8" fill="#3a8cc6"/>
<circle cx="567.80" cy="342.86" r="0.8" fill="#3a8cc6"/>
<circle cx="566.71" cy="342.68" r="0.8" fill="#3a8cc6"/>
<circle cx="569.17" cy="342.08" r="0.8" fill="#3a8cc6"/>
<circle cx="569.63" cy="342.60" r="0.8" fill="#3a8cc6"/>
<circle cx="571.73" cy="342.01" r="0.8" fill="#3a8cc6"/>
<circle cx="565.91" cy="342.06" r="0.8" fill="#3a8cc6"/>
<circle cx="567.26" cy="343.25" r="0.8" fill="#3a8cc6"/>
<circle cx="566.19" cy="342.86" r="0.8" fill="#3a8cc6"/>
<circle cx="570.09" cy="340.67" r="0.8" fill="#3a8cc6"/>
<circle cx="564.04" cy="342.93" r="0.8" fill="#3a8cc6"/>
<circle cx="568.62" cy="342.40" r="0.8" fill="#3a8cc6"/>
<circle cx="565.94" cy="343.15" r="0.8" fill="#3a8cc6"/>
<circle cx="568.22" cy="341.62" r="0.8" fill="#3a8cc6"/>
<circle cx="571.93" cy="341.97" r="0.8" fill="#3a8cc6"/>
<circle cx="565.49" cy="342.41" r="0.8" fill="#3a8cc6"/>
<circle cx="566.54" cy="342.32" r="0.8" fill="#3a8cc6"/>
<circle cx="562.63" cy="342.58" r="0.8" fill="#3a8cc6"/>
<circle cx="569.92" cy="340.98" r="0.8" fill="#3a8cc6"/>
<circle cx="567.10" cy="343.29" r="0.8" fill="#3a8cc6"/>
<circle cx="569.40" cy="343.27" r="0.8" fill="#3a8cc6"/>
<circle cx="568.10" cy="346.49" r="0.75" fill="#3a8cc6"/>
<circle cx="567.49" cy="344.71" r="0.75" fill="#3a8cc6"/>
<circle cx="568.93" cy="347.15" r="0.75" fill="#3a8cc6"/>
<circle cx="569.06" cy="346.58" r="0.75" fill="#3a8cc6"/>
<circle cx="568.95" cy="346.37" r="0.75" fill="#3a8cc6"/>
<circle cx="567.18" cy="345.66" r="0.75" fill="#3a8cc6"/>
<circle cx="567.57" cy="344.09" r="0.75" fill="#3a8cc6"/>
<circle cx="566.58" cy="344.89" r="0.75" fill="#3a8cc6"/>
<circle cx="567.28" cy="346.22" r="0.75" fill="#3a8cc6"/>
<circle cx="569.37" cy="345.43" r="0.75" fill="#3a8cc6"/>
<circle cx="572.8" cy="341.3" r="0.7" fill="#3a8cc6"/>
<circle cx="574.2" cy="343.4" r="0.7" fill="#3a8cc6"/>
<circle cx="563.2" cy="341" r="0.7" fill="#3a8cc6"/>
<circle cx="552.8" cy="274.7" r="0.8" fill="#c8606a"/>
<circle cx="554.9" cy="249.7" r="0.8" fill="#c8606a"/>
<circle cx="557.4" cy="225.7" r="0.8" fill="#c8606a"/>
<circle cx="559.2" cy="212.3" r="0.8" fill="#c8606a"/>
<circle cx="560.8" cy="205.5" r="0.8" fill="#c8606a"/>
<circle cx="561.9" cy="200.8" r="0.8" fill="#c8606a"/>
<circle cx="563.1" cy="197.2" r="0.8" fill="#c8606a"/>
<circle cx="564.8" cy="194.1" r="0.8" fill="#c8606a"/>
<circle cx="566.4" cy="192.7" r="0.8" fill="#c8606a"/>
<circle cx="568.2" cy="194.6" r="0.8" fill="#c8606a"/>
<circle cx="569.6" cy="197.6" r="0.8" fill="#c8606a"/>
<circle cx="570.40" cy="200.50" r="0.85" fill="#d27882"/>
<circle cx="570.44" cy="200.66" r="0.85" fill="#d27882"/>
<circle cx="570.48" cy="200.84" r="0.85" fill="#d27882"/>
<circle cx="570.53" cy="201.06" r="0.85" fill="#d27882"/>
<circle cx="570.59" cy="201.31" r="0.85" fill="#d27882"/>
<circle cx="570.66" cy="201.61" r="0.85" fill="#d27882"/>
<circle cx="570.74" cy="201.95" r="0.85" fill="#d27882"/>
<circle cx="570.81" cy="202.35" r="0.85" fill="#d27882"/>
<circle cx="570.90" cy="202.80" r="0.85" fill="#d27882"/>
<circle cx="571.01" cy="203.33" r="0.85" fill="#d27882"/>
<circle cx="571.14" cy="203.93" r="0.85" fill="#d27882"/>
<circle cx="571.29" cy="204.60" r="0.85" fill="#d27882"/>
<circle cx="571.44" cy="205.31" r="0.85" fill="#d27882"/>
<circle cx="571.58" cy="206.04" r="0.85" fill="#d27882"/>
<circle cx="571.69" cy="206.78" r="0.85" fill="#d27882"/>
<circle cx="571.77" cy="207.50" r="0.85" fill="#d27882"/>
<circle cx="571.80" cy="208.20" r="0.85" fill="#d27882"/>
<circle cx="571.78" cy="208.88" r="0.85" fill="#d27882"/>
<circle cx="571.73" cy="209.55" r="0.85" fill="#d27882"/>
<circle cx="571.64" cy="210.22" r="0.85" fill="#d27882"/>
<circle cx="571.53" cy="210.90" r="0.85" fill="#d27882"/>
<circle cx="571.40" cy="211.57" r="0.85" fill="#d27882"/>
<circle cx="571.24" cy="212.25" r="0.85" fill="#d27882"/>
<circle cx="571.08" cy="212.92" r="0.85" fill="#d27882"/>
<circle cx="570.90" cy="213.60" r="0.85" fill="#d27882"/>
<circle cx="570.70" cy="214.29" r="0.85" fill="#d27882"/>
<circle cx="570.47" cy="215.01" r="0.85" fill="#d27882"/>
<circle cx="570.21" cy="215.74" r="0.85" fill="#d27882"/>
<circle cx="569.94" cy="216.47" r="0.85" fill="#d27882"/>
<circle cx="569.67" cy="217.17" r="0.85" fill="#d27882"/>
<circle cx="569.40" cy="217.84" r="0.85" fill="#d27882"/>
<circle cx="569.14" cy="218.45" r="0.85" fill="#d27882"/>
<circle cx="568.90" cy="219.00" r="0.85" fill="#d27882"/>
<circle cx="568.67" cy="219.49" r="0.85" fill="#d27882"/>
<circle cx="568.43" cy="219.93" r="0.85" fill="#d27882"/>
<circle cx="568.20" cy="220.33" r="0.85" fill="#d27882"/>
<circle cx="567.97" cy="220.69" r="0.85" fill="#d27882"/>
<circle cx="567.77" cy="221.00" r="0.85" fill="#d27882"/>
<circle cx="567.58" cy="221.28" r="0.85" fill="#d27882"/>
<circle cx="567.42" cy="221.51" r="0.85" fill="#d27882"/>
<circle cx="567.30" cy="221.70" r="0.85" fill="#d27882"/>
<circle cx="548.8" cy="300.8" r="0.8" fill="#c8606a"/>
<circle cx="593.2" cy="307.7" r="0.8" fill="#c8606a"/>
<circle cx="611.8" cy="317.4" r="0.8" fill="#c8606a"/>
<path d="M618,321.5 l4,0 M621,325.5 l5,0 M624,322.5 l1,3 M617.5,318.5 l1,0" stroke="#e8707a" stroke-width="0.6" stroke-dasharray="1 1" fill="none"/>
<line x1="574.3" y1="298.9" x2="586" y2="302.5" stroke="#e8707a" stroke-width="0.7" stroke-dasharray="1.2 1"/>
<polygon points="588.5,303.2 584.2,303.6 585.5,300.4" fill="#c0505a"/>
<polyline points="608.6,295.7 620,270.5 626.3,243.2 629.6,227.8 630,219.8 627.5,213.2 622.3,208.1 615,202.8 607.3,200.8 594.8,197.4 585.1,197.3 579.9,197.3 575.9,197.5" fill="none" stroke="#e07a84" stroke-width="0.6" stroke-dasharray="0.9 0.9"/>
<line x1="605.3" y1="322" x2="610" y2="308" stroke="#e8707a" stroke-width="0.7" stroke-dasharray="1 1"/>
<polygon points="610.6,305.5 608.6,309.8 611.8,309.8" fill="#e8707a"/>
<circle cx="587.90" cy="209.50" r="1.7" fill="url(#sR)"/>
<circle cx="589.07" cy="210.10" r="1.7" fill="url(#sR)"/>
<circle cx="587.84" cy="210.71" r="1.7" fill="url(#sR)"/>
<circle cx="589.02" cy="211.31" r="1.7" fill="url(#sR)"/>
<circle cx="587.79" cy="211.91" r="1.7" fill="url(#sR)"/>
<circle cx="588.96" cy="212.52" r="1.7" fill="url(#sR)"/>
<circle cx="587.73" cy="213.12" r="1.7" fill="url(#sR)"/>
<circle cx="588.91" cy="213.72" r="1.7" fill="url(#sR)"/>
<circle cx="587.68" cy="214.33" r="1.7" fill="url(#sR)"/>
<circle cx="588.85" cy="214.93" r="1.7" fill="url(#sR)"/>
<circle cx="587.62" cy="215.53" r="1.7" fill="url(#sR)"/>
<circle cx="588.80" cy="216.14" r="1.7" fill="url(#sR)"/>
<circle cx="587.57" cy="216.74" r="1.7" fill="url(#sR)"/>
<circle cx="588.74" cy="217.34" r="1.7" fill="url(#sR)"/>
<circle cx="587.51" cy="217.95" r="1.7" fill="url(#sR)"/>
<circle cx="588.69" cy="218.55" r="1.7" fill="url(#sR)"/>
<circle cx="587.46" cy="219.16" r="1.7" fill="url(#sR)"/>
<circle cx="588.63" cy="219.76" r="1.7" fill="url(#sR)"/>
<circle cx="587.40" cy="220.36" r="1.7" fill="url(#sR)"/>
<circle cx="588.58" cy="220.97" r="1.7" fill="url(#sR)"/>
<circle cx="587.35" cy="221.57" r="1.7" fill="url(#sR)"/>
<circle cx="588.52" cy="222.17" r="1.7" fill="url(#sR)"/>
<circle cx="587.29" cy="222.78" r="1.7" fill="url(#sR)"/>
<circle cx="588.47" cy="223.38" r="1.7" fill="url(#sR)"/>
<circle cx="587.24" cy="223.98" r="1.7" fill="url(#sR)"/>
<circle cx="588.41" cy="224.59" r="1.7" fill="url(#sR)"/>
<circle cx="587.18" cy="225.19" r="1.7" fill="url(#sR)"/>
<circle cx="588.36" cy="225.79" r="1.7" fill="url(#sR)"/>
<circle cx="587.13" cy="226.40" r="1.7" fill="url(#sR)"/>
<circle cx="588.30" cy="227.00" r="1.7" fill="url(#sR)"/>
<circle cx="576.3" cy="200.1" r="1.6" fill="url(#sR)"/>
<circle cx="578.3" cy="200.8" r="1.6" fill="url(#sR)"/>
<circle cx="580.3" cy="202.8" r="1.6" fill="url(#sR)"/>
<circle cx="583" cy="204.8" r="1.6" fill="url(#sR)"/>
<circle cx="585.3" cy="205.3" r="1.6" fill="url(#sR)"/>
<circle cx="587.7" cy="207.5" r="1.6" fill="url(#sR)"/>
<circle cx="589.1" cy="209.6" r="1.6" fill="url(#sR)"/>
<circle cx="577" cy="199.5" r="1.6" fill="url(#sR)"/>
<circle cx="575.9" cy="197.5" r="1.5" fill="url(#sR)"/>
<circle cx="579.9" cy="197.3" r="1.5" fill="url(#sR)"/>
<circle cx="585.1" cy="197.3" r="1.5" fill="url(#sR)"/>
<circle cx="594.8" cy="197.4" r="1.5" fill="url(#sR)"/>
<circle cx="607.3" cy="200.8" r="2.0" fill="url(#sR)"/>
<circle cx="615" cy="202.8" r="2.0" fill="url(#sR)"/>
<circle cx="622.3" cy="208.1" r="2.0" fill="url(#sR)"/>
<circle cx="627.5" cy="213.2" r="2.0" fill="url(#sR)"/>
<circle cx="630" cy="219.8" r="2.0" fill="url(#sR)"/>
<circle cx="629.6" cy="227.8" r="2.0" fill="url(#sR)"/>
<circle cx="626.3" cy="243.2" r="2.0" fill="url(#sR)"/>
<circle cx="620" cy="270.5" r="2.0" fill="url(#sR)"/>
<circle cx="608.6" cy="295.7" r="2.0" fill="url(#sR)"/>
<circle cx="604.8" cy="325.3" r="2.0" fill="url(#sR)"/>
<circle cx="564.5" cy="273.9" r="1.7" fill="url(#sB)"/>
<circle cx="566.5" cy="275.5" r="1.7" fill="url(#sB)"/>
<circle cx="563.5" cy="277" r="1.7" fill="url(#sB)"/>
<circle cx="567.3" cy="278.2" r="1.7" fill="url(#sB)"/>
<circle cx="562.8" cy="280.5" r="1.7" fill="url(#sB)"/>
<circle cx="566" cy="280" r="1.7" fill="url(#sB)"/>
<circle cx="568.9" cy="282.5" r="1.7" fill="url(#sB)"/>
<circle cx="562.4" cy="284" r="1.7" fill="url(#sB)"/>
<circle cx="565.5" cy="284.5" r="1.7" fill="url(#sB)"/>
<circle cx="568.2" cy="285" r="1.7" fill="url(#sB)"/>
<circle cx="569.4" cy="287.3" r="1.7" fill="url(#sB)"/>
<circle cx="562.3" cy="287.5" r="1.7" fill="url(#sB)"/>
<circle cx="565.8" cy="288.4" r="1.7" fill="url(#sB)"/>
<circle cx="563" cy="291" r="1.7" fill="url(#sB)"/>
<circle cx="567" cy="291.5" r="1.7" fill="url(#sB)"/>
<circle cx="569.9" cy="291.1" r="1.7" fill="url(#sB)"/>
<circle cx="564.2" cy="294" r="1.7" fill="url(#sB)"/>
<circle cx="567.5" cy="294.5" r="1.7" fill="url(#sB)"/>
<circle cx="573.2" cy="294.9" r="1.7" fill="url(#sB)"/>
<circle cx="571" cy="296" r="1.7" fill="url(#sB)"/>
<circle cx="566" cy="297" r="1.7" fill="url(#sB)"/>
<circle cx="568.8" cy="298.2" r="1.7" fill="url(#sB)"/>
<circle cx="570.5" cy="298.6" r="1.7" fill="url(#sB)"/>
<circle cx="571.5" cy="296.2" r="1.7" fill="url(#sB)"/>
<line x1="570.4" y1="300" x2="568" y2="322" stroke="#3a8cc6" stroke-width="0.6" stroke-dasharray="0.8 0.8"/>
<circle cx="570.2" cy="301.3" r="1.9" fill="url(#sB)"/>
<circle cx="570.7" cy="310.2" r="1.9" fill="url(#sB)"/>
<circle cx="571" cy="318.8" r="1.9" fill="url(#sB)"/>
<circle cx="567.8" cy="323.1" r="1.9" fill="url(#sB)"/>
<line x1="575.9" y1="317" x2="575.9" y2="312" stroke="#e0505c" stroke-width="0.8"/>
<polygon points="575.9,309.8 574,313.2 577.8,313.2" fill="#e0505c"/>
<text x="586.40" y="236.50" font-size="7.5" fill="#e07a84" stroke="#e07a84" stroke-width="0.22">100<tspan font-size="4.5" dy="-3.4">th</tspan></text>
<text x="574.30" y="291.70" font-size="7.5" fill="#3a8cc6" stroke="#3a8cc6" stroke-width="0.22">100<tspan font-size="4.5" dy="-3.4">th</tspan></text>
<text x="573.20" y="327.00" font-size="7.5" fill="#3a8cc6" stroke="#3a8cc6" stroke-width="0.22">1<tspan font-size="4.5" dy="-3.4">st</tspan></text>
<text x="593.30" y="327.00" font-size="7.5" fill="#e07a84" stroke="#e07a84" stroke-width="0.22">1<tspan font-size="4.5" dy="-3.4">st</tspan></text>
<line x1="492" y1="210.5" x2="503.3" y2="210.5" stroke="#e8707a" stroke-width="0.6" stroke-dasharray="1 1"/>
<circle cx="496.8" cy="210.5" r="2" fill="url(#sR)"/>
<text x="-0.54" y="0" font-size="7.8" fill="#e8707a" textLength="13.14" lengthAdjust="spacingAndGlyphs" transform="translate(505.30,212.86) rotate(0)"  stroke="#e8707a" stroke-width="0.22">BZS</text>
<line x1="492" y1="220.7" x2="503.3" y2="220.7" stroke="#3a8cc6" stroke-width="0.6" stroke-dasharray="1 1"/>
<circle cx="496.8" cy="220.7" r="2" fill="url(#sB)"/>
<text x="-0.54" y="0" font-size="7.8" fill="#3a8cc6" textLength="13.14" lengthAdjust="spacingAndGlyphs" transform="translate(505.30,223.06) rotate(0)"  stroke="#3a8cc6" stroke-width="0.22">PZS</text>
<text x="-0.16" y="0" font-size="9.6" fill="#000" textLength="3.64" lengthAdjust="spacingAndGlyphs" font-weight="bold" transform="translate(449.35,201.46) rotate(0)"  stroke="#000" stroke-width="0.0">f</text>
</svg>
</body></html>
